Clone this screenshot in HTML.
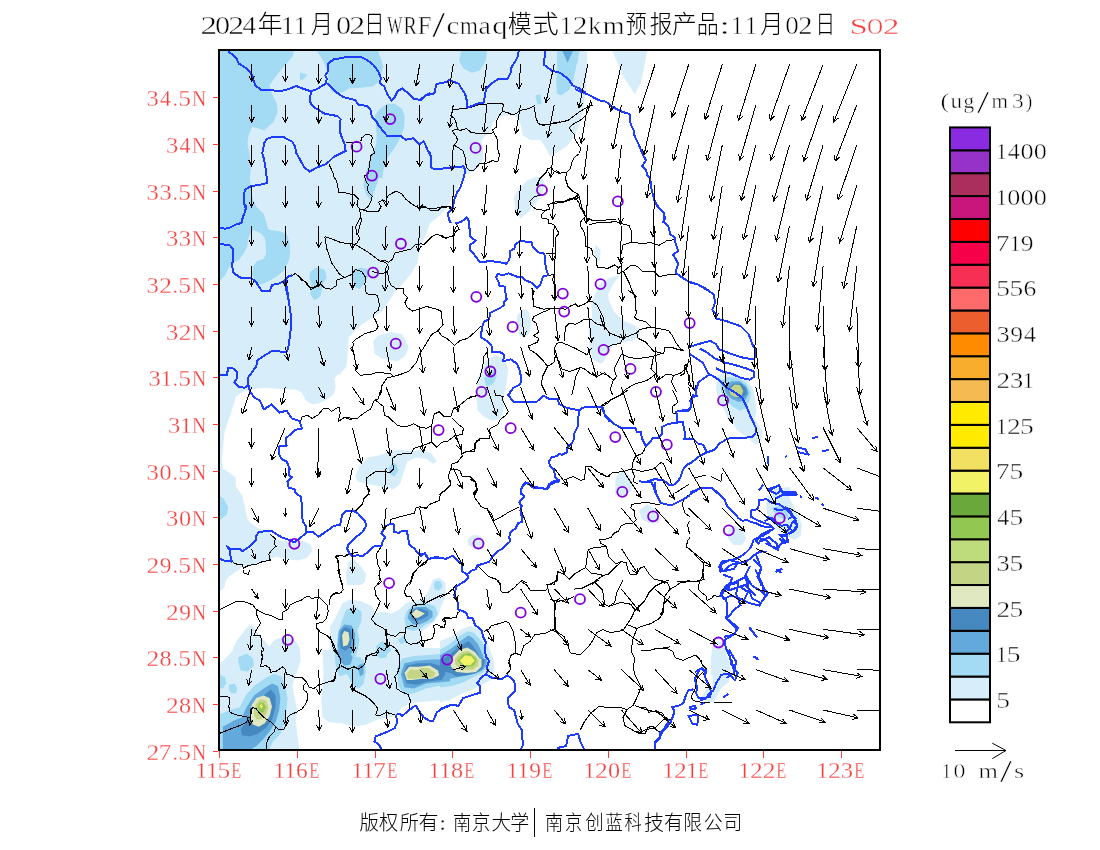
<!DOCTYPE html><html><head><meta charset="utf-8"><style>html,body{margin:0;padding:0;background:#fff;width:1100px;height:850px;overflow:hidden}svg{display:block}</style></head><body>
<svg width="1100" height="850" viewBox="0 0 1100 850">
<rect width="1100" height="850" fill="#fff"/>
<defs><clipPath id="mc"><rect x="219" y="50" width="661" height="700"/></clipPath></defs>
<g clip-path="url(#mc)">
<path d="M219.0,50.0 587.4,50.0 586.3,89.2 583.2,109.8 579.1,126.3 575.0,134.5 568.3,144.8 560.0,150.8 555.6,153.0 550.2,156.3 544.7,146.5 540.4,139.9 530.5,139.9 522.9,135.5 520.7,124.6 514.2,114.8 505.5,115.4 496.7,118.1 492.4,123.5 490.2,131.2 484.7,136.6 481.5,141.0 483.1,148.6 483.6,159.5 479.3,166.1 472.7,171.5 465.1,174.8 459.6,183.5 455.0,192.0 451.5,199.0 448.0,206.0 444.0,211.0 438.0,217.0 430.0,223.0 427.7,230.4 419.5,248.9 417.4,263.3 411.2,273.6 401.0,286.0 396.0,290.0 389.6,300.2 382.0,311.6 371.8,318.0 360.4,325.6 348.9,337.1 347.6,353.6 346.4,366.4 340.2,374.2 337.0,375.1 334.5,378.9 335.7,386.5 333.8,394.2 327.5,399.3 319.8,403.1 312.2,404.4 305.8,400.5 302.0,392.9 296.9,389.7 281.6,389.1 266.4,387.8 256.2,388.5 243.5,391.6 235.8,396.7 233.3,405.6 230.7,414.5 226.9,424.7 224.4,433.6 223.1,446.4 221.8,459.1 223.1,469.3 225.6,470.0 235.8,477.6 235.8,486.5 242.2,495.5 244.7,505.6 247.3,518.4 251.1,523.5 258.7,528.5 268.9,531.1 275.3,538.7 284.2,541.3 294.4,540.0 304.5,541.3 310.9,545.1 312.2,551.5 307.1,557.8 296.9,560.4 284.2,559.1 276.5,556.5 266.4,560.4 253.6,564.2 242.2,566.7 238.7,570.0 228.9,576.5 225.6,580.9 224.5,587.5 221.3,590.2 219.0,590.7Z" fill="#d7eefa"/>
<path d="M516.4,192.0 519.6,187.9 527.3,180.3 536.0,177.0 541.5,177.0 544.7,183.5 543.0,192.0 540.5,196.0 538.0,200.1 529.1,211.5 520.2,218.5 515.1,209.0 513.8,197.0ZM647.1,50.1 647.1,52.1 640.9,83.0 634.7,94.3 622.4,74.8 612.1,50.1ZM595.5,244.6 600.5,249.7 599.9,261.2 595.5,259.9 594.2,251.0ZM717.1,375.8 725.8,372.5 736.7,373.6 747.6,380.2 753.1,388.9 755.3,400.9 756.4,410.7 754.2,420.0 728.0,420.0 724.7,410.7 719.3,400.9 716.0,390.0ZM373.1,340.9 378.2,335.8 390.9,332.0 402.4,334.5 408.7,347.3 404.9,356.2 397.3,361.3 382.0,358.7 374.4,353.6ZM517.1,315.5 523.5,309.1 528.5,311.6 531.1,321.8 529.8,332.0 524.7,337.7 519.6,335.8 517.1,325.6ZM477.6,379.1 485.3,361.3 495.5,354.9 504.4,358.7 508.2,368.9 506.9,379.1 505.6,390.5 503.1,396.4 504.4,402.7 503.1,412.9 499.3,419.3 491.6,420.5 484.0,416.7 477.6,410.4 476.4,395.0ZM592.9,300.0 599.3,284.1 609.5,277.7 619.6,275.2 613.3,284.1 608.2,294.3 608.9,300.2 614.0,311.6 622.9,320.5 633.1,324.4 640.7,330.7 639.5,335.8 631.8,340.9 622.9,342.2 612.7,346.0 607.6,353.6 603.8,361.3 601.1,363.8 592.2,358.7 589.6,347.3 588.4,328.2 592.2,315.5 590.9,301.5ZM355.3,476.5 359.1,466.4 368.0,457.5 380.7,454.9 390.9,451.1 398.5,449.8 411.3,451.1 421.5,449.8 431.6,453.6 436.7,461.3 432.9,463.8 426.5,458.7 416.4,457.5 407.5,461.3 403.6,472.7 399.8,484.2 393.5,489.3 382.0,486.7 368.0,484.2 357.8,481.6ZM615.3,479.1 619.1,472.7 625.5,471.5 631.8,479.1 631.8,490.5 625.5,495.0 615.3,495.0ZM728.0,400.0 745.0,420.0 740.0,429.5 734.9,425.6 729.8,415.5 724.7,406.5 718.4,397.6 717.1,390.0ZM734.4,410.0 747.5,410.0 756.2,421.8 762.7,431.8 761.6,438.4 756.2,444.9 746.4,437.3 736.5,429.6 732.2,422.0 730.0,418.7ZM773.6,488.5 790.0,487.0 792.0,495.0 785.0,500.0 773.6,500.0ZM766.4,496.5 779.1,492.7 789.3,497.8 796.9,511.8 802.0,524.5 800.7,536.0 794.4,539.8 786.7,536.0 779.1,530.9 771.5,522.0 766.4,511.8ZM728.2,528.4 735.8,525.8 743.5,530.9 746.0,538.5 742.2,544.9 733.3,544.9 728.2,538.5ZM712.2,646.4 718.5,641.3 723.6,643.8 726.2,652.7 728.7,661.6 731.3,675.0 710.9,675.0 710.9,659.1ZM711.3,660.0 729.1,660.0 729.1,681.6 721.5,688.0 713.8,702.0 708.7,702.0 701.1,698.2 706.2,689.3 712.5,685.5 712.5,670.2ZM639.1,510.5 646.7,504.2 655.6,509.3 660.7,518.2 658.2,523.3 649.3,523.3 641.6,519.5ZM467.1,539.8 473.5,534.7 481.1,536.0 484.9,542.4 482.4,548.7 474.7,548.7 468.4,544.9ZM348.4,561.5 353.5,558.9 361.1,566.5 366.2,574.2 364.9,581.8 361.1,585.0 347.1,585.0 345.8,575.5ZM228.0,660.0 236.5,640.9 244.2,631.1 249.6,624.5 254.0,626.7 257.3,633.3 263.8,639.8 269.3,646.4 274.7,639.8 281.3,637.6 288.9,636.5 296.5,642.0 299.8,648.5 300.9,662.0 228.0,662.0ZM220.4,663.2 233.6,650.0 263.6,650.0 262.4,656.0 268.4,660.8 272.0,657.2 272.0,650.0 299.6,650.0 299.6,664.4 294.8,677.6 292.4,686.0 294.8,698.0 297.2,710.0 296.0,722.0 297.2,734.0 299.6,751.0 219.0,751.0 219.0,663.2ZM338.0,650.0 338.0,723.2 328.4,722.0 322.4,717.2 321.2,698.0 323.6,674.0 322.4,650.0ZM330.0,626.7 336.5,615.8 342.0,603.8 349.6,599.5 361.6,601.6 371.5,606.0 375.8,613.6 382.4,611.5 391.1,613.6 399.8,609.3 406.4,602.7 412.9,601.6 422.7,598.4 428.2,591.8 432.5,579.8 439.1,577.6 445.6,583.1 445.6,597.3 441.3,606.0 439.1,613.6 434.7,621.3 428.2,626.7 422.7,631.1 420.5,637.6 421.6,646.4 428.2,650.7 439.1,648.5 450.0,644.2 450.0,662.0 330.0,662.0ZM330.0,648.0 450.0,648.0 450.0,700.4 438.0,700.4 426.0,701.6 414.0,702.8 402.0,707.6 397.2,713.6 390.0,717.2 378.0,719.6 366.0,724.4 354.0,726.8 342.0,723.2 330.0,722.0ZM440.0,641.1 450.9,636.7 461.8,629.1 470.5,625.8 479.3,629.1 485.8,638.9 490.2,649.8 493.5,659.6 493.5,661.0 440.0,661.0ZM440.0,659.0 493.5,659.0 494.5,670.9 491.3,679.6 483.6,684.0 472.7,689.5 461.8,693.8 450.9,699.3 440.0,702.5Z" fill="#d7eefa"/>
<path d="M219.0,50.0 294.0,50.0 293.0,56.0 280.0,71.0 269.5,85.0 271.6,93.0 276.7,103.6 277.7,112.0 273.6,122.0 264.0,130.6 258.0,128.2 252.1,127.1 248.6,135.3 247.4,143.5 249.8,155.3 250.9,167.1 249.8,178.8 250.9,185.9 252.1,195.3 253.3,200.0 256.8,207.1 263.9,214.1 266.2,222.4 268.6,229.4 281.5,231.8 287.4,235.3 289.8,244.7 290.4,252.9 288.6,261.2 283.9,270.6 276.8,276.5 268.6,281.2 260.4,284.7 255.6,281.2 252.1,275.3 253.3,265.9 256.8,261.2 263.9,258.8 266.2,252.9 265.1,238.8 261.5,234.1 255.6,230.6 252.1,230.6 248.6,237.6 247.4,245.9 243.9,252.9 239.2,260.0 233.3,262.4 229.8,265.9 225.1,275.3 220.4,280.0 219.0,281.2ZM378.0,51.1 381.1,58.7 383.4,66.4 381.1,74.0 378.8,81.6 373.4,86.2 361.2,87.8 348.9,88.5 342.8,92.4 332.1,92.4 329.1,84.7 327.5,70.9 322.9,60.2 316.8,51.1ZM374.9,115.3 379.5,109.2 387.2,103.8 394.8,103.8 402.5,109.2 404.8,116.8 404.0,127.5 400.9,136.7 397.9,142.8 391.8,152.0 387.2,158.1 383.4,170.4 382.6,178.0 367.3,178.0 368.8,170.4 373.4,158.1 376.5,142.8 376.5,133.7 375.7,124.5ZM300.0,72.5 307.6,74.8 302.3,80.1 300.0,79.4ZM486.9,50.1 485.9,60.4 479.7,70.7 471.5,72.7 463.3,68.6 459.1,60.4 461.2,50.1ZM535.3,95.4 540.5,94.3 541.5,103.6 537.4,104.6ZM557.0,50.0 579.9,50.0 576.6,64.4 573.4,80.7 569.3,89.7 561.1,95.5 557.0,93.8 556.2,80.7 557.0,64.4ZM536.5,95.5 540.6,95.5 540.6,101.2 537.4,105.3ZM575.0,48.0 579.1,48.0 578.1,60.4 575.0,68.6ZM310.3,271.6 316.5,267.4 324.7,269.5 326.8,277.7 322.7,283.9 320.6,296.3 314.4,300.4 310.3,294.2 311.3,283.9 309.3,277.7ZM353.6,269.5 361.8,267.4 368.0,269.5 369.0,275.7 363.9,283.9 359.7,289.1 354.6,287.0 352.5,277.7ZM218.0,495.5 223.1,498.0 228.2,506.9 226.9,514.5 221.8,518.4 218.0,520.9ZM720.4,381.3 728.0,376.9 737.8,378.0 746.5,383.5 750.9,392.2 749.8,399.8 745.5,408.5 740.0,410.7 732.4,406.4 725.8,399.8 721.5,392.2ZM484.0,379.1 487.8,371.5 495.5,368.9 496.7,376.5 492.9,384.2 486.5,386.7ZM388.4,468.9 392.2,462.5 396.0,463.8 398.5,470.2 394.7,476.5 389.6,474.0ZM771.5,508.0 779.1,505.5 786.7,509.3 789.3,516.9 784.2,519.5 776.5,515.6ZM239.8,660.0 245.3,654.0 250.7,656.2 254.0,660.0ZM238.4,657.2 246.8,653.6 252.8,658.4 254.0,665.6 248.0,671.6 240.8,670.4 238.4,663.2ZM219.0,674.0 225.2,677.6 226.4,683.6 222.8,688.4 219.0,688.4ZM228.8,684.8 234.8,683.6 237.2,688.4 236.0,693.2 231.2,693.2 228.8,689.6ZM219.0,714.8 230.0,710.0 239.6,707.6 245.6,695.6 254.0,686.0 266.0,677.6 274.4,674.0 281.6,676.4 285.2,686.0 287.6,698.0 286.4,710.0 285.2,722.0 280.4,734.0 273.2,741.2 268.4,751.0 219.0,751.0ZM336.5,657.3 337.6,635.5 342.0,620.2 346.4,609.3 355.1,607.1 361.6,611.5 361.6,620.2 357.3,631.1 359.5,639.8 358.4,648.5 355.1,657.3 351.8,660.0 338.7,660.0ZM404.2,619.1 406.4,611.5 412.9,604.9 424.9,602.7 434.7,606.0 438.0,613.6 433.6,621.3 426.0,624.5 419.5,628.9 412.9,631.1 406.4,628.9ZM433.6,584.2 435.8,580.9 440.2,580.9 442.4,586.4 439.1,590.7 434.7,589.6ZM375.8,646.4 382.4,640.9 388.9,644.2 391.1,650.7 384.5,656.2 378.0,654.0ZM397.6,639.8 404.2,635.5 406.4,642.0 400.9,644.2ZM422.7,660.0 433.6,655.1 444.5,652.9 450.0,650.7 450.0,662.0 422.7,662.0ZM334.8,650.0 342.0,650.0 350.4,656.0 360.0,657.2 364.8,662.0 366.0,671.6 363.6,683.6 358.8,688.4 354.0,686.0 350.4,680.0 346.8,674.0 339.6,676.4 336.0,668.0 334.8,657.2ZM375.6,650.0 387.6,650.0 386.4,657.2 380.4,658.4 375.6,654.8ZM397.2,668.0 402.0,658.4 414.0,656.0 432.0,654.8 444.0,653.6 450.0,652.4 450.0,686.0 438.0,686.0 426.0,688.4 414.0,693.2 404.4,694.4 398.4,686.0ZM440.0,649.8 448.7,644.4 458.5,636.7 467.3,631.3 473.8,632.4 481.5,641.1 485.8,650.9 488.0,658.5 489.1,661.0 440.0,661.0ZM440.0,659.0 489.1,659.0 488.0,666.5 483.6,672.0 472.7,677.5 461.8,682.9 450.9,686.2 440.0,687.3ZM377.3,130.0 402.7,130.0 400.2,137.6 391.3,149.1 384.9,163.1 381.1,172.0 377.3,183.5 373.5,193.6 370.9,201.3 365.8,193.6 363.3,184.7 367.1,168.2 370.9,155.5 376.0,145.3Z" fill="#a3dbf4"/>
<path d="M561.9,50.0 573.4,50.0 567.6,62.7ZM724.7,386.7 731.3,381.3 740.0,381.3 746.5,386.7 748.7,393.3 745.5,399.8 738.9,402.0 731.3,398.7 725.8,393.3ZM222.8,726.8 233.6,720.8 242.0,717.2 246.8,706.4 254.0,695.6 263.6,688.4 272.0,683.6 278.0,686.0 280.4,698.0 279.2,710.0 275.6,722.0 269.6,731.6 263.6,738.8 256.4,746.0 248.0,751.0 222.8,751.0ZM337.6,646.4 338.7,631.1 344.2,624.5 351.8,625.6 355.1,633.3 355.1,644.2 351.8,652.9 344.2,657.3 339.8,654.0ZM407.5,618.0 409.6,610.4 416.2,607.1 426.0,607.1 432.5,611.5 432.5,616.9 427.1,621.3 419.5,624.5 412.9,624.5ZM337.2,650.0 348.0,650.0 352.8,657.2 350.4,664.4 344.4,665.6 339.6,660.8ZM357.6,665.6 363.6,663.2 363.6,674.0 360.0,676.4ZM400.8,674.0 404.4,663.2 416.4,660.8 432.0,659.6 445.2,659.6 450.0,662.0 450.0,681.2 438.0,682.4 426.0,683.6 414.0,688.4 404.4,687.2ZM440.0,655.3 450.9,648.7 460.7,641.1 468.4,635.6 472.7,637.8 478.2,644.4 482.5,654.2 484.7,661.0 440.0,661.0ZM440.0,659.0 486.9,659.0 485.8,666.5 481.5,670.9 472.7,674.2 461.8,676.4 450.9,678.5 440.0,681.8Z" fill="#63a9dc"/>
<path d="M728.0,388.9 733.5,383.5 741.1,383.5 746.5,388.9 746.5,394.4 741.1,398.7 734.5,397.6 729.1,393.3ZM240.8,729.2 249.2,717.2 254.0,705.2 263.6,695.6 270.8,689.6 275.6,695.6 275.6,707.6 272.0,719.6 266.0,728.0 257.6,734.0 249.2,736.4 242.0,735.2ZM339.8,640.9 340.9,631.1 345.3,626.7 350.7,628.9 351.8,637.6 350.7,646.4 345.3,650.7 340.9,648.5ZM410.7,613.6 414.0,609.3 420.5,608.2 428.2,611.5 428.2,615.8 422.7,619.1 416.2,621.3 411.8,619.1ZM403.2,674.0 406.8,665.6 417.6,663.2 432.0,663.2 442.8,666.8 445.2,674.0 441.6,680.0 429.6,681.2 416.4,684.8 406.8,683.6ZM440.0,660.7 449.8,654.2 459.6,646.5 468.4,641.1 472.7,645.5 477.1,652.0 480.4,660.7 481.5,661.0 440.0,661.0ZM440.0,659.0 484.7,659.0 484.7,662.2 482.5,668.7 476.0,673.1 467.3,675.3 456.4,676.4 450.9,673.1 445.5,672.0 440.0,675.3Z" fill="#4689c0"/>
<path d="M250.4,717.2 251.6,705.2 256.4,698.0 263.6,695.6 269.6,698.0 272.0,706.4 269.6,716.0 264.8,723.2 258.8,726.8 252.8,724.4ZM342.0,635.5 344.2,631.1 348.5,632.2 349.6,639.8 347.5,645.3 343.1,646.4ZM411.8,613.6 416.2,609.3 420.5,611.5 424.9,613.6 421.6,615.8 417.3,618.0 412.9,616.9ZM404.4,672.8 409.2,666.8 418.8,666.8 429.6,665.6 438.0,670.4 439.2,675.2 432.0,678.8 421.2,678.8 412.8,680.0 406.8,680.0ZM453.1,656.4 459.6,649.8 467.3,647.6 474.9,652.0 480.4,659.6 481.5,661.0 450.9,661.0ZM450.9,659.0 481.5,659.0 481.5,666.5 476.0,672.0 467.3,673.1 456.4,672.0 450.9,666.5Z" fill="#e0e8c2"/>
<path d="M729.1,390.0 734.5,384.5 740.0,385.1 743.3,391.1 741.1,396.5 735.6,397.6 730.2,394.4ZM254.0,714.8 255.2,705.2 260.0,699.2 266.0,700.4 268.4,707.6 266.0,714.8 261.2,719.6 256.4,719.6ZM406.8,674.0 410.4,669.2 416.4,670.4 421.2,668.0 428.4,668.0 435.6,672.8 433.2,677.6 423.6,677.6 414.0,678.8 408.0,678.8ZM455.3,658.5 461.8,652.0 468.4,650.9 476.0,656.4 479.0,661.0 454.2,661.0ZM455.3,659.0 478.2,659.0 478.2,665.5 472.7,669.8 461.8,669.8 455.3,664.4Z" fill="#c3d484"/>
<path d="M257.6,707.6 260.0,702.8 263.6,702.8 266.0,707.6 263.6,712.4 260.0,712.4ZM457.5,660.7 462.9,654.2 469.5,653.1 476.0,658.5 476.5,661.0 458.5,661.0ZM458.5,659.0 476.0,659.0 476.0,662.2 472.7,666.5 464.0,666.5 458.5,662.2Z" fill="#92c852"/>
<path d="M259.4,706.4 261.2,703.4 263.0,706.4 261.2,708.8ZM459.6,660.7 465.1,655.3 471.6,656.4 474.9,660.7 470.5,665.1 464.0,665.1ZM473.8,659.0 471.6,664.4 465.1,664.4 460.7,659.0Z" fill="#f2f266"/>
<path d="M292.1,275.3 295.6,273.5 302.7,280.0 306.2,282.4 310.9,289.4 318.0,285.9M453.0,109.8 461.2,108.8 469.4,107.7 479.7,104.6 492.1,103.6 502.4,103.2M420.0,206.6 430.3,208.7 440.6,207.6 450.9,206.6M575.0,192.2 579.1,196.3 581.2,204.5 583.2,212.8 587.4,219.0 595.6,221.0 605.9,220.0 616.2,219.0M355.6,244.8 359.7,238.6 357.7,234.5 359.7,226.2 361.8,220.1 360.8,218.0M324.7,236.5 330.9,238.6 341.2,242.7 351.5,243.7 355.6,244.8 368.0,252.0 380.3,261.3 384.4,260.2 388.6,262.3 392.7,259.2 394.7,253.0 403.0,251.0 411.2,248.9 415.3,244.8 421.5,243.7 423.6,244.8 427.7,240.7 431.8,236.5 435.9,234.5 442.1,235.5 444.2,237.6 452.4,236.5 454.5,230.4 456.5,226.2M324.7,236.5 326.8,248.9 331.9,263.3 339.1,273.6 344.3,277.7 337.1,279.8 336.0,286.0 330.9,289.1 324.7,288.0 320.6,283.9 312.4,288.0 308.2,286.0 304.1,280.8 300.0,279.8M344.3,277.7 351.5,274.6 355.6,269.5 361.8,271.6 365.9,277.7 364.9,283.9 365.5,290.0M403.6,290.0 403.0,288.0 396.8,289.1 390.6,284.9 388.6,279.8 387.5,271.6 388.6,267.4 386.5,263.3 382.4,261.3 380.3,261.3M372.1,271.6 382.4,273.6 387.5,271.6M300.7,420.9 302.0,417.1 307.1,415.2 312.2,418.4 318.5,414.5 323.6,408.2 328.7,408.8 331.3,411.4 338.9,406.9 340.2,413.3 338.3,421.5 344.0,417.7 358.0,418.4M270.2,534.3 275.3,538.7 274.0,543.8 275.9,546.4 271.5,550.2 268.9,554.0 270.2,560.4 262.5,561.6 256.2,564.2 248.5,565.5 243.5,568.0 242.2,564.2 237.1,564.2 233.3,562.9M335.1,557.8 340.2,555.3 345.3,556.5 350.4,554.0 358.0,552.0M337.6,559.1 338.3,565.5 340.2,575.0M453.1,109.9 450.9,115.9 454.2,118.1 456.4,123.5 457.5,129.0 459.6,130.6 466.2,128.5 471.6,132.8 481.5,133.4 484.7,133.9 491.3,133.4 493.5,132.3 496.7,137.7 497.8,143.2 497.3,147.5 499.5,155.2 497.8,161.7 492.4,160.6 488.0,162.8 483.6,163.9 479.3,163.9 473.8,170.5 469.5,170.5 466.2,167.2 465.6,158.5 462.9,150.8 456.4,146.5 454.2,145.4 456.4,142.1 457.5,139.9 456.4,136.6 453.1,132.3 452.5,130.6 457.5,129.0M493.5,132.3 492.4,130.1 496.7,126.8 496.7,120.3 498.9,115.9 502.2,111.5 503.3,105.0 502.4,103.2M502.2,111.5 507.6,112.6 512.0,114.8 516.4,113.7 519.6,110.5 525.1,109.4 529.5,108.3 533.8,106.1 534.9,105.0M533.8,106.1 534.9,111.5 536.0,118.1 538.2,123.5 542.5,125.2 549.1,124.6 554.5,122.5 560.0,121.9M540.0,124.8 550.2,124.2 557.8,122.9 568.0,120.4 578.2,112.7 588.4,106.4 592.2,105.1 590.5,101.0 588.4,110.2M588.4,110.2 585.8,115.3 582.0,119.1 573.1,124.2 569.3,128.0 571.8,131.8 574.4,134.4 574.4,138.2 578.2,144.5 580.7,148.4 579.5,153.5 574.4,157.3 571.8,162.4 570.5,168.7 566.7,172.5 559.1,173.2 554.0,171.3 551.5,167.5 547.6,168.7 546.4,172.5 540.0,178.9 536.0,185.7M566.7,172.5 565.5,178.9 568.0,186.5 573.1,191.6 578.2,194.2 576.9,199.3 570.5,198.6 562.9,201.8 555.3,201.8 547.6,205.0M560.0,172.6 555.6,170.5M546.9,170.5 544.7,173.7 541.5,177.0 539.3,179.2 538.2,184.6 536.0,185.7M456.5,224.3 459.1,229.4 455.3,231.9 454.0,235.7 448.9,237.0 446.4,238.3 442.5,237.0 440.0,235.1M580.0,197.5 573.6,198.8 562.2,202.6 553.3,203.3 548.2,204.5 549.5,209.0 545.6,210.3 536.7,209.6 531.0,205.2 529.7,201.4 534.2,196.9 540.5,195.0M545.6,210.3 541.8,214.1 541.8,217.9 548.2,219.2 548.2,223.0 553.3,224.3 555.2,226.8 559.0,233.2 555.8,237.0 555.2,239.5 555.2,253.5 545.6,253.5M555.2,253.5 554.5,273.9 548.8,275.8M554.5,273.9 552.6,279.0 553.3,282.8 555.2,284.1 555.2,300.0M531.6,287.9 534.2,291.7 532.3,296.8 532.9,300.0M570.0,198.8 575.1,197.5 577.6,195.0M575.1,197.5 578.9,202.6 580.2,207.7 584.0,211.5 585.3,216.6 584.0,217.9 580.8,221.7 580.2,225.5 584.0,231.9 585.3,237.0 585.3,245.9 591.6,248.5 592.9,254.8 596.7,258.6 596.1,263.7 598.0,267.5 608.2,268.2 614.5,265.0 618.4,267.5 617.1,272.6 618.4,273.9 623.5,271.4 631.1,265.0 637.5,266.3 642.5,271.4 654.0,271.4 659.1,276.5 669.3,274.5 675.6,274.5M589.1,224.9 598.0,222.4 608.2,223.0 614.5,221.1 620.9,223.6 629.2,225.5 631.1,230.6 631.7,242.1 622.2,245.3M631.7,242.1 641.3,243.4 651.5,242.7 659.1,245.3 666.7,240.8 674.4,239.6M622.2,245.3 622.2,249.7 620.3,256.1 622.2,262.5 620.9,266.3 618.4,267.5M623.5,271.4 626.0,276.5 629.8,284.1 632.4,291.7 636.2,296.8 634.9,300.0M680.0,349.6 684.4,350.2M689.8,361.6 684.4,366.0 684.4,373.6 680.0,375.8M687.6,362.7 686.5,371.5 689.8,376.9 688.7,384.5 694.2,388.9M365.5,290.0 366.7,293.8 376.9,295.1 378.2,298.9 379.5,305.3 378.2,310.4 374.4,312.9 373.1,316.7 375.6,320.5 378.2,326.9 375.6,330.7 365.5,333.3 355.3,339.6 352.7,342.2 354.0,344.7 350.8,348.5 354.0,353.6 355.3,361.3 356.5,366.4 355.3,370.2 360.4,375.3 371.8,374.0 375.6,372.7 382.0,372.7 390.9,374.0 393.5,376.5 399.8,374.6 408.7,371.5 416.4,362.5 418.9,354.9 424.0,347.3 431.6,334.5 438.0,330.7 443.1,324.4 441.8,318.0 441.8,311.6 436.7,309.1 426.5,306.5 418.9,309.1 412.5,311.0 407.5,307.8 404.9,302.7 407.5,297.6 403.6,293.8 403.6,290.0M438.0,330.7 441.8,335.8 446.9,338.4 454.5,345.4 459.6,340.9 467.3,338.4 474.9,332.0 480.0,326.9M393.5,376.5 387.1,377.8 382.0,385.5 380.7,395.0M532.4,290.0 533.6,306.5 543.8,309.1 554.0,308.5 557.8,308.5 565.5,309.1 571.8,305.3 575.6,304.0 578.2,306.5 584.5,304.0 588.4,301.5 592.2,301.5 597.3,305.3 603.6,318.0 604.9,329.5M550.2,309.1 541.3,312.9 533.6,316.7 532.4,320.5 536.2,323.1 538.7,332.0 533.6,335.8 538.7,338.4 537.5,342.2 528.5,346.0 529.8,349.8 536.2,353.6 542.5,360.0 547.6,366.4 554.0,362.5 555.3,356.2 554.0,349.8 556.5,343.5 561.6,342.2 564.2,343.5M564.2,343.5 575.6,348.5 587.1,354.9 589.6,349.8 592.2,348.5M564.2,340.9 565.5,326.9 569.3,323.1 575.6,324.4 584.5,319.3 590.9,319.3 597.3,324.4 603.6,325.6 608.7,332.0 610.0,335.8M547.6,366.4 542.5,376.5 541.3,384.2 545.1,391.8 546.4,395.0M554.0,353.6 559.1,361.3 561.6,368.9 569.3,371.5 580.7,367.6 584.5,368.9 590.9,374.0 597.3,376.5 604.9,372.7 610.0,377.8M579.5,368.9 575.6,376.5 574.4,384.2 571.8,395.0M470.0,337.1 481.5,325.6M488.0,351.1 484.0,356.2 482.7,366.4 480.2,376.5 476.4,384.2M628.0,290.0 634.4,295.1 635.6,300.2 635.0,307.8 636.9,312.9 634.4,316.7 636.9,319.3 645.8,321.8 650.9,326.9 645.8,328.2 639.5,329.5 636.9,333.3 638.2,338.4 645.8,342.2 653.5,351.1 663.6,353.6 664.9,347.3 671.3,347.3 678.9,349.8 684.0,350.5M650.9,326.9 663.6,329.5 668.7,330.7 672.5,335.8 676.4,343.5 681.5,349.8M600.0,315.5 603.8,326.9 610.2,333.3 622.9,338.4 635.6,333.3 638.2,330.7M622.9,338.4 620.4,343.5 612.7,344.7 607.6,347.3M621.6,353.6 629.3,357.5 638.2,358.7 653.5,356.2 661.1,353.6M621.6,353.6 617.8,361.3 614.0,368.9 616.5,376.5 612.7,381.6 610.2,389.3 612.7,395.0M600.0,372.7 607.6,375.3 614.0,380.4M653.5,356.2 652.2,363.8 650.9,368.9 656.0,374.0 659.8,379.1 666.2,374.0 673.8,375.3 681.5,372.7 685.3,368.9 687.8,363.8 689.1,358.7M656.0,374.0 647.1,380.4 634.4,384.2 625.5,389.3 620.4,395.0M673.8,375.3 671.3,381.6 676.4,391.8M685.3,368.9 687.8,372.7 689.1,381.6 694.2,390.5M340.0,420.5 343.8,417.4 350.2,419.3 357.8,418.0 364.2,412.9 370.5,409.1 374.4,400.2 378.2,398.9 380.7,390.0M375.6,400.2 383.3,406.5 384.5,415.5 388.4,416.7 393.5,421.8 397.3,425.6 406.2,426.9 413.8,423.7 418.9,426.9 426.5,428.2 431.6,425.6 434.2,414.2 439.3,411.6 444.4,416.7 450.7,416.7 453.3,409.1 459.6,405.3 467.3,398.9 473.6,396.4 480.0,395.1M431.6,425.6 431.6,442.2 436.7,447.3 441.8,442.2 448.2,440.9 454.5,435.8 462.2,434.5 463.5,428.2 458.4,424.4 452.0,418.0M431.6,442.2 421.5,446.0 413.8,448.5 411.3,453.6 403.6,453.6 397.3,454.9 392.2,458.7 393.5,468.9 389.6,472.7 385.8,471.5 375.6,471.5 366.7,477.8 366.7,485.5 369.3,495.0M454.5,435.8 460.9,447.3 462.2,456.2 457.1,462.5 452.0,463.8 450.7,468.9 448.2,476.5 450.7,484.2 444.4,490.5 439.3,495.0M462.2,453.6 467.3,451.1 474.9,451.1 474.9,443.5 480.0,439.6M450.7,468.9 459.6,470.2 462.2,476.5 469.8,476.5 474.9,481.6 477.5,489.3 474.9,495.0M470.0,397.0 477.6,395.7M494.2,390.0 495.5,395.1 503.1,396.4 502.5,400.2 505.6,406.5 508.2,411.6 505.6,415.5 500.5,419.3 498.0,424.4 492.9,426.9 489.1,429.5 490.4,433.3 489.1,438.4 485.3,438.4 480.2,438.4 476.4,440.9 475.1,448.5 472.5,449.8 470.0,451.1M585.8,466.4 590.9,466.4 597.3,471.5 602.4,474.0 606.2,476.5 610.0,476.5M585.8,466.4 584.5,479.1 580.7,480.4 573.1,476.5 566.7,479.1 562.9,480.4M470.0,479.1 475.1,481.6 476.4,489.3 473.8,495.0M602.4,406.5 610.0,401.5M600.0,406.5 610.2,400.2 622.9,393.8 628.0,390.0M645.8,446.0 644.5,449.8 642.0,453.6 635.6,456.2 633.1,461.3 631.8,468.9 622.9,471.5 612.7,472.7 607.6,476.5 600.0,474.0M631.8,468.9 642.0,471.5 653.5,468.9 661.1,462.5 663.6,463.8 666.2,470.2 670.0,479.1 671.3,484.2M631.8,468.9 634.4,476.5 633.1,481.6 638.2,484.2M672.5,390.0 676.4,397.6 677.6,402.7 672.5,406.5 672.5,412.9 676.4,414.2M694.2,477.8 705.6,475.3M722.2,472.7 720.9,481.6 710.7,476.5M675.1,493.1 689.1,484.2M693.8,553.8 701.5,561.5 704.0,562.7 702.7,571.6 704.0,579.3 697.6,581.8 690.0,581.8M660.0,580.2 667.6,582.7 670.2,589.1 675.3,586.5 680.4,582.7 690.5,581.5 699.5,580.8 702.0,577.6 703.3,570.0M699.5,580.8 698.2,589.1 702.0,592.9 705.8,595.5 707.1,600.5 712.2,598.0 713.5,595.5 719.8,596.7M670.2,589.1 665.1,595.5 663.8,603.1 662.5,612.0 660.0,614.5M660.0,648.9 665.1,647.6 672.7,651.5 675.3,657.8 682.9,660.4 691.8,656.5 695.6,655.3 699.5,659.1 702.0,664.2 705.8,668.0 703.3,675.0M701.1,660.0 702.4,665.1 706.2,668.9 702.4,672.7 697.3,677.8 696.0,684.2 694.7,690.5 690.9,696.9 693.5,700.7 699.8,702.0 710.0,702.0M713.8,702.0 731.6,702.0M640.0,707.1 645.1,707.1 648.9,712.2 656.5,710.9 662.9,713.5 665.5,718.5 670.5,719.8M640.0,733.8 645.1,733.8 647.6,727.5 652.7,726.2 656.5,730.0 660.4,732.5M631.5,504.2 639.1,503.5 644.2,502.3 649.3,502.9 659.5,504.8M631.5,504.2 630.8,508.0 634.0,510.5 634.0,515.6 636.5,519.5 632.7,523.3 626.4,523.3 621.3,525.8 618.7,530.9 613.6,533.5 611.1,537.3 603.5,539.8 599.6,539.8 600.9,543.6 606.0,546.2 607.3,550.0 608.5,556.4 613.6,561.5 616.2,564.0 621.3,561.5 626.4,562.7 627.6,569.1 630.2,574.2 636.5,574.2 640.4,567.8 644.2,566.5 649.3,574.2 654.4,579.3 660.7,580.5 664.5,583.1 667.1,581.8M606.0,546.2 598.4,547.5 592.0,548.1 588.2,550.0 586.9,558.9 585.6,567.8 580.5,570.4 574.2,574.2 569.1,579.3 564.0,574.2 557.6,571.6 556.4,579.3 553.8,585.0M585.6,567.8 590.7,572.9 598.4,574.2 603.5,575.5 608.5,574.2 616.2,566.5 621.3,561.5M603.5,575.5 595.8,580.5 592.0,585.0M690.0,494.0 683.6,499.1 682.4,505.5 684.9,513.1 690.0,516.9M690.0,520.7 687.5,524.5 688.7,530.9 690.0,533.5M690.0,537.3 687.5,541.1 686.2,547.5 690.0,548.7M677.3,581.8 683.6,581.8 690.0,580.5M420.0,508.0 426.4,507.4 430.2,504.2 439.1,500.4 440.4,494.0 445.5,490.2 450.5,485.1 450.5,480.0M470.9,480.0 476.0,482.5 477.3,490.2 473.5,492.7 474.7,497.8 478.5,502.9 481.1,506.7 487.5,509.3 491.3,513.1 493.8,520.7 498.9,518.2 505.3,514.4 509.1,511.8 519.3,506.7M420.0,566.5 425.1,564.0 427.6,560.2M478.5,566.5 483.6,571.6 488.7,576.7 496.4,579.3 500.2,585.0M560.0,572.9 557.5,572.9 557.5,580.5 549.8,585.0M516.7,585.0 521.8,580.5 526.9,583.1M366.2,480.0 366.2,485.1 369.4,490.2 368.7,494.0 363.6,499.1 362.4,504.2 356.0,510.5 353.5,511.8M390.4,524.5 390.4,519.5 404.4,515.6 414.5,513.1 415.8,508.0 419.6,506.7 426.0,508.6 429.8,504.2 434.9,502.3 440.0,500.4M381.5,546.2 376.4,553.8 377.6,564.0 380.2,569.1 378.9,575.5 381.5,581.8 377.6,585.0M335.6,556.4 338.2,555.1 344.5,556.4 348.4,553.8M335.6,556.4 338.2,560.2 338.2,569.1 339.5,576.7 342.0,585.0M428.5,558.9 420.9,565.3 414.5,571.6 412.0,579.3 409.5,585.0M220.2,609.3 226.7,606.0 235.5,601.6 244.2,601.6 252.9,604.9 256.2,609.3 263.8,613.6 271.5,615.8 278.0,619.1 282.4,619.1 282.4,612.5 287.8,609.3 290.0,604.9 296.5,601.6 300.9,600.5 305.3,597.3 308.5,596.2 311.8,598.4 318.4,597.3 320.5,598.4 327.1,604.9 328.2,611.5 326.0,619.1 322.7,622.4 316.2,623.5 316.2,627.8 320.5,632.2 327.1,635.5 331.5,639.8 332.5,646.4 335.8,651.8 338.0,654.0M256.2,609.3 256.2,613.6 260.5,623.5 256.2,630.0 254.0,635.5 260.5,635.5 261.6,640.9 261.6,646.4 263.8,649.6 261.6,652.9 262.7,660.0M329.3,604.9 329.3,600.5 331.5,595.1 335.8,592.9 338.0,592.9M243.1,570.0 244.2,573.3 248.5,574.4 249.6,570.0M261.2,650.0 262.4,656.0 260.6,666.8 266.0,665.6 269.6,668.0 270.8,672.2 275.6,671.6 279.2,669.2 282.8,666.8 285.2,669.2 286.4,674.0 291.2,675.2 294.8,677.6 302.0,677.6 306.8,682.4 309.2,687.2 314.0,688.4 318.8,684.8 323.6,683.6 326.0,682.4 333.2,681.2 335.6,674.0 336.8,669.2 338.0,668.0M306.8,682.4 303.2,686.0 303.2,689.6 306.8,692.0 308.0,698.0 305.6,704.0 302.0,708.8 296.0,712.4 290.0,714.8 287.6,717.2 286.4,724.4 284.0,729.2 278.0,729.2 275.6,726.8 270.8,722.0 263.6,717.2 258.8,712.4 256.4,708.8 252.8,707.6 250.4,710.0 250.4,717.2 248.0,717.2 242.0,716.0 236.0,714.8 230.0,712.4 228.8,706.4 230.0,698.0 227.6,696.8 218.0,696.8M275.6,726.8 274.4,731.6 269.6,736.4 267.2,741.2 266.0,749.6M248.0,717.2 246.8,722.0 239.6,725.6 230.0,729.2 218.0,734.0M337.6,570.0 339.8,576.5 342.0,583.1 343.1,589.6 340.9,592.9 334.4,594.0 330.0,597.3M380.2,570.0 379.1,576.5 380.2,580.9 374.7,587.5 375.8,595.1 380.2,601.6 378.0,607.1 374.7,613.6 371.5,619.1 375.8,624.5 382.4,627.8 385.6,630.0 387.8,634.4 395.5,636.5 399.8,632.2 405.3,632.2 405.3,627.8 410.7,625.6 416.2,626.7 417.3,623.5 415.1,619.1 410.7,613.6 412.9,606.0 417.3,604.9 423.8,604.9 428.2,601.6 434.7,598.4 441.3,595.1 450.0,592.9M405.3,632.2 404.2,637.6 406.4,642.0 410.7,644.2 417.3,643.1 421.6,639.8 424.9,640.9 428.2,639.8 432.5,638.7 434.7,631.1 433.6,625.6 436.9,624.5 444.5,627.8 445.6,621.3 443.5,619.1 445.6,618.0 450.0,619.1M417.3,570.0 412.9,573.3 410.7,580.9 406.4,586.4 404.2,591.8 406.4,596.2 410.7,596.2 412.9,600.5 416.2,604.9M385.6,630.0 386.7,646.4 384.5,650.7 379.1,647.5 375.8,652.9 371.5,654.0 366.0,656.2 366.0,660.0M386.7,646.4 391.1,645.3 395.5,648.5 398.7,652.9 399.8,660.0M330.0,636.5 334.4,646.4 338.7,655.1 340.9,660.0M330.0,681.2 334.8,680.0 336.0,671.6 339.6,666.8 340.8,659.6 337.2,653.6 333.6,650.0M340.8,665.6 348.0,669.2 354.0,666.8 358.8,669.2 364.8,664.4 366.0,657.2 370.8,654.8 375.6,656.0 378.0,652.4 378.0,650.0M352.8,669.2 352.8,681.2 351.6,686.0 355.2,690.8 360.0,693.2 364.8,695.6 369.6,699.2 374.4,704.0 378.0,708.8 375.6,714.8 379.2,716.0 386.4,712.4 394.8,714.8M394.8,650.0 399.6,654.8 399.6,666.8 397.2,674.0 394.8,676.4 396.0,682.4 396.0,688.4 402.0,692.0 408.0,694.4 410.4,700.4 409.2,708.8M440.0,597.5 446.5,594.2 453.1,588.7 456.4,584.4M440.0,628.0 444.4,626.9 445.5,622.5 442.2,620.4 444.4,617.1 450.9,618.2 456.4,617.1 457.5,612.7 459.6,611.6M483.6,631.3 488.0,630.2 491.3,625.8 498.9,623.6 505.5,621.5 508.7,622.5 513.1,631.3 515.3,642.2 515.3,653.1 510.9,655.3 508.7,662.9 510.9,670.0M515.3,653.1 520.7,655.3 524.0,645.5 530.5,641.1 534.9,634.5 544.7,633.5 554.5,629.1 556.7,631.3 560.0,633.5M554.5,629.1 555.6,622.5 554.5,612.7 555.6,607.3 555.6,604.0 552.4,599.6 549.1,593.1 548.0,588.7 546.9,584.4 549.1,584.4 557.8,580.0M555.6,604.0 557.8,599.6 560.0,598.5M497.8,580.0 500.0,583.3 500.0,589.8 502.2,592.0 508.7,592.0 514.2,587.6 520.7,581.1 522.9,580.0M520.7,581.1 527.3,585.5 530.5,590.9 540.4,590.9 546.9,589.8M554.5,588.7 560.0,594.2M508.7,660.0 510.9,666.5 509.8,670.9 506.5,674.2M550.0,599.2 558.1,601.3 568.2,599.2 574.3,596.2M574.3,589.1 582.4,588.1 594.5,582.0 598.6,580.0M594.5,582.0 602.6,590.1 604.7,604.3 608.7,606.3 614.8,602.3 616.8,592.1 620.9,584.0 622.9,580.0M608.7,606.3 620.9,602.3 631.0,604.3 635.0,610.4 639.1,606.3 645.1,600.2 649.2,592.1 655.3,586.1 663.4,582.0 669.4,580.0M635.0,610.4 631.0,618.5 626.9,624.5 622.9,630.6 610.7,632.6 602.6,629.6 596.6,632.6 592.5,640.7 588.5,646.8 580.4,654.9 570.2,652.9 568.2,646.8 564.2,636.7 558.1,632.6 550.0,629.6M554.0,600.2 554.0,620.5 556.1,632.6M626.9,624.5 637.0,628.6 641.1,626.6 651.2,623.5 659.3,618.5 663.4,612.4 663.4,604.3 667.4,600.2 670.0,596.2M637.0,628.6 633.0,638.7 631.0,650.9 635.0,658.9 633.0,667.0 635.0,675.1 641.1,687.3 637.0,697.4 633.0,705.5 626.9,709.6 620.9,707.5 608.7,707.5 598.6,706.5 590.5,713.6 584.4,721.7 580.4,729.8M626.9,709.6 622.9,717.6 624.9,725.7 639.1,733.8 645.1,729.8 655.3,727.8 663.4,719.7 670.0,719.7M635.0,705.5 645.1,709.6 655.3,711.6 663.4,715.7 669.4,719.7M641.1,650.9 647.2,650.9 655.3,648.8 663.4,648.8 670.0,646.8M345.5,142.1 360.7,142.1M360.7,141.5 362.0,137.6 365.8,134.5 370.9,135.1 372.2,137.6 370.9,144.0 373.5,149.1 374.7,152.9 370.9,155.5 369.6,163.1 368.4,173.3 364.5,175.8 365.8,180.9 368.4,184.7 367.1,189.8 369.6,193.6 372.2,196.2 370.9,201.3 368.4,206.4 363.3,210.2 359.5,208.9 356.9,205.1 358.2,198.7 354.4,194.9 348.0,193.6 344.2,192.4 338.5,192.4 337.8,186.0 336.5,180.9 334.0,177.1 332.7,172.0 330.2,166.9 328.9,164.4M363.3,210.2 368.4,211.5 378.5,211.5 381.1,206.4 378.5,202.5 382.4,200.0 386.2,201.3 387.5,196.2 391.3,193.6 396.4,191.1 401.5,193.6 405.3,198.7 411.6,203.8 418.0,207.6 424.4,206.4 430.7,210.2 438.4,210.2 442.2,206.4 448.5,206.4 452.4,211.5 453.6,206.4M359.5,208.9 360.7,216.5 358.2,221.6 355.6,226.7 356.9,235.0" fill="none" stroke="#000" stroke-width="1" shape-rendering="crispEdges"/>
<path d="M228.3,51.1 236.5,58.3 238.6,63.4 246.8,68.6 252.0,74.8 255.1,85.1 261.3,90.2 271.6,90.2 279.8,91.3 288.0,89.2 296.3,86.1 304.5,89.2 310.7,91.3 316.9,89.2 325.1,84.0 326.0,83.2 326.8,78.6 325.2,75.5 327.5,72.5 328.3,63.3 333.6,59.5 345.9,57.2 361.2,57.2 367.3,60.2 373.4,64.8 378.0,70.9 381.1,78.6 379.5,83.2 384.1,86.2 387.2,93.9 391.8,100.8 394.8,96.9 397.9,90.8 402.5,88.5 407.1,92.4 413.2,98.5 420.8,100.0 425.4,95.4 430.0,93.1M311.7,91.3 309.7,97.4 310.7,103.6 314.8,107.7 325.1,113.9 337.5,116.0 340.6,119.1 339.5,126.3 339.5,130.4 341.6,136.6 344.7,144.8 345.7,151.0 341.6,153.0 333.3,157.2 329.2,161.3 325.1,164.4 316.9,167.5 309.7,171.6 304.5,167.5 300.4,160.3 296.3,153.0 295.2,146.9 292.2,141.7 286.0,138.6 283.9,136.6 273.6,136.6 267.4,138.6 264.3,142.7 262.3,153.0 264.3,160.3 265.4,167.5 266.4,175.7 267.4,182.9 259.2,185.0 251.0,186.0 244.8,190.1 243.7,198.4 244.8,206.6 246.2,205.9 245.1,211.8 242.7,217.6 241.5,222.9 235.6,224.7 229.8,227.6 225.1,228.8 220.4,227.6 218.0,227.6M327.5,83.2 330.6,86.2 336.7,92.4 342.8,96.9 355.1,100.0 358.1,104.6 367.3,106.1 370.4,109.2 371.9,116.8 376.5,121.4 378.0,124.5 382.6,130.6 387.2,135.9 400.9,135.9 405.5,139.8 413.2,138.2 419.3,144.4 423.9,141.3 428.5,152.0 430.0,153.5M220.4,244.1 229.8,245.3 233.3,249.4 233.3,256.5 232.1,265.9 233.3,272.9 240.4,277.6 249.8,277.6 255.6,281.2 261.5,290.6 265.1,290.6 269.8,291.2 272.1,284.7 278.0,284.1 283.9,281.2 288.6,276.5 292.1,275.3M285.1,281.2 286.2,289.4 288.6,300.0M420.0,99.5 426.2,95.4 434.4,93.3 436.5,84.0 446.8,82.0 448.8,79.9 459.1,84.0 461.2,88.2 464.3,92.3 466.3,97.4 467.4,107.7 477.7,103.6 483.9,102.6 485.9,89.2 492.1,83.0 498.3,78.9 507.5,78.9 510.6,72.7 510.6,68.6 514.7,62.4 517.8,56.2 518.9,50.1M429.9,153.3 428.2,151.0 431.3,157.2 431.3,167.5 434.4,169.5 450.9,167.5 463.3,166.4 465.3,169.5 464.3,175.7 462.2,181.9 460.2,188.1 457.1,192.2 454.0,200.4 453.0,206.6 450.9,210.7 447.8,212.8 448.8,219.0 450.9,223.1M545.6,50.1 543.6,64.5 551.8,70.7 560.1,72.7 568.3,78.9 572.4,85.1 580.7,89.2 585.0,92.3M575.0,89.2 587.4,94.3 599.7,100.5 605.9,101.6 612.1,106.7 622.4,111.9 629.6,113.9 630.6,124.2 633.7,130.4 634.7,136.6 638.9,144.8 643.0,155.1 646.1,160.3 641.9,166.4 646.1,169.5 647.1,175.7 650.2,177.8 651.2,188.1 654.3,200.4 657.4,206.6 663.6,212.8 664.6,223.1M285.5,280.0 286.7,287.6 288.6,299.1 290.5,313.1 290.5,330.9 289.3,341.1 288.0,348.7 286.7,351.9 276.5,351.3 271.5,351.3 265.1,355.1 257.5,360.2 256.2,366.5 252.4,371.6 247.9,378.0 248.5,385.3 249.8,391.6 254.9,398.0 260.0,400.5 263.8,409.5 271.5,404.4 279.1,412.6 286.7,410.7 291.8,418.4 299.5,420.9 302.0,428.5 295.6,429.8 285.5,438.7 286.7,445.7 279.1,446.4 279.1,454.0 281.6,459.1 286.7,461.6 289.9,469.3 289.3,470.0 288.6,475.1 291.8,477.0 287.4,481.5 288.6,487.8 294.4,489.1 295.6,492.9 300.7,496.7 302.0,505.6 302.6,520.9 305.8,526.0 306.5,532.4 299.5,538.7 294.4,542.5 289.6,540.0 281.6,537.4 274.0,532.4 271.5,531.1 258.7,531.7 256.2,536.2 256.2,540.0 249.8,546.4 242.2,551.5 239.6,548.9 230.7,548.9 226.9,546.4 230.1,550.2 230.7,557.8 232.0,561.6 225.6,561.0 220.5,559.1 218.0,559.1M218.0,374.5 220.5,375.1 226.9,375.1 228.2,367.8 232.0,367.8 237.1,371.6 237.1,377.6 234.5,382.7 238.4,386.5 244.7,387.8 248.5,385.3M306.5,532.4 313.5,532.4 318.5,536.8 324.9,532.4 333.8,526.0 340.2,524.7 342.1,514.5 346.5,510.7 352.9,510.7 358.0,513.3M455.3,223.6 461.6,221.7 466.7,217.3 468.6,220.5 470.5,237.0 475.6,240.8 470.5,244.6 469.9,249.7 474.4,254.8 478.2,259.9 480.7,262.5 488.4,261.2 498.5,261.8 506.2,263.7 509.4,259.9 510.0,251.0 514.5,248.5 515.1,244.6 520.2,240.8 529.1,242.1 531.6,242.1 532.9,247.2 538.0,252.3 544.4,253.5 545.0,262.5 546.9,271.4 548.2,275.2 543.1,276.5 540.5,284.1 536.7,287.9 531.6,282.8 525.3,280.3 521.5,276.5 516.4,276.5 508.7,273.3 502.4,275.2 497.9,273.9 496.0,277.1 498.5,281.5 498.5,285.4 504.9,286.6 506.2,300.0M654.0,195.0 654.6,201.4 659.1,207.7 664.2,212.8 664.8,219.2 662.9,221.7 668.0,225.5 670.5,234.5 674.4,237.0 675.6,243.4 678.2,251.0 673.1,254.8 675.6,258.6 678.2,263.7 676.9,267.5 675.6,272.6 680.7,276.5 688.4,281.5 697.3,284.1 704.9,287.9 710.0,291.7M690.0,282.5 697.6,284.4 706.5,289.5 714.2,294.5 714.8,303.5 712.3,309.8 715.5,313.6 716.7,318.7 726.9,321.3 740.9,326.4 748.5,334.0 752.4,344.2 755.3,349.6 755.3,358.4M690.9,346.4 701.8,343.1 710.5,340.9 716.0,344.2 719.3,349.6 725.8,351.8 734.5,355.1 745.5,358.4 755.3,358.9M699.6,348.5 706.2,351.8 714.9,358.4 725.8,362.7 734.5,364.9 745.5,368.2 754.2,371.5 754.2,376.9 749.8,379.6 741.1,378.0 731.3,373.6 722.5,371.5 716.0,368.2M689.8,354.0 696.4,358.4 702.9,362.7 708.4,373.6 712.7,375.8 719.3,380.2 726.9,387.8 734.5,392.2 742.2,397.6 746.5,406.4 750.9,417.3 752.0,420.0M709.5,374.7 704.0,378.0 698.5,382.4 696.4,388.9 696.4,395.5 692.0,397.6 690.4,400.9 690.9,406.4 688.7,410.7 680.0,410.7M506.2,300.0 506.9,298.9 504.4,301.5 503.7,305.3 500.5,307.8 490.4,312.9 489.1,319.3 484.0,321.8 482.1,326.9 480.8,337.1 486.5,340.9 491.6,346.0 491.6,352.4 500.5,352.4 504.4,354.9 503.1,361.3 510.7,359.4 517.1,363.8 519.6,370.2 521.5,379.1 520.3,384.2 513.3,388.0 508.2,395.0M512.0,390.0 508.2,395.1 513.3,401.5 523.5,402.1 536.2,402.1 543.8,395.7 548.9,398.9 557.8,398.9 559.1,404.0 566.7,407.8 573.1,409.1 579.5,410.4 582.0,407.8 590.9,406.5 602.4,406.5 604.9,415.5 610.0,421.8M579.5,410.4 578.2,418.0 578.2,425.6 574.4,433.3 574.4,438.4 571.8,443.5 568.0,446.0 566.7,452.4 561.6,454.9 559.1,453.6 556.5,456.2 551.5,457.5 548.9,461.3 550.2,466.4 554.0,470.2 555.3,477.8 559.1,480.4 552.7,481.6 548.9,484.2 546.4,489.3 541.3,488.0 533.6,486.7 527.3,482.9 523.5,484.2 520.9,489.3 520.9,495.0M600.0,406.5 602.5,409.1 605.1,415.5 612.7,423.1 621.6,428.2 635.6,428.2 636.9,432.0 640.7,432.0 642.0,438.4 645.8,446.0 649.6,442.2 653.5,437.7 658.5,437.7 662.4,433.3 662.4,426.9 668.7,423.7 676.4,423.1 680.2,421.8 682.7,421.8 684.0,428.2 685.3,435.8 684.0,439.6 689.1,438.4 694.2,439.6 698.0,443.5 703.1,444.7 705.6,449.8 706.9,452.4 714.5,449.8 719.6,443.5 726.0,439.6 731.1,437.7 740.0,437.7M677.6,423.1 676.4,411.6 682.7,410.4 690.4,409.1 691.6,400.2 692.9,395.1 696.7,396.4 695.5,390.0M706.9,452.4 699.3,456.2 691.6,462.5 686.5,465.1 682.7,470.2 680.2,477.8 677.6,481.6 675.1,484.2 670.0,485.5 663.6,480.4 654.7,479.1 647.1,481.6 640.7,481.6M654.7,481.6 656.0,495.0M689.1,495.0 700.5,488.0 712.0,488.0 719.6,495.0M752.0,420.0 751.8,418.7 756.2,428.5 755.6,432.9 751.8,437.3 740.0,437.8M767.1,489.6 779.1,485.3 781.3,491.8 795.5,491.8 796.5,494.5 782.4,495.1 775.8,498.4M690.0,492.7 701.5,487.6 711.6,487.6 719.3,494.0 724.4,499.1 726.9,505.5 730.7,509.3 734.5,513.1 738.4,518.2 742.2,520.7 747.3,520.1 751.1,522.0 756.2,523.3 761.3,525.8 766.4,527.1 771.5,527.1 774.0,528.4 768.9,532.2 762.5,536.0 756.2,538.5 753.6,539.8 752.4,543.6 749.8,548.7 746.0,552.5 740.9,556.4 735.8,558.9 729.5,560.2 721.8,561.5 719.3,566.5 720.5,571.6 724.4,570.4 728.2,566.5 733.3,564.0 740.9,562.7 746.0,561.5 749.8,558.9 753.6,555.1 758.7,552.5 762.5,551.3 766.4,552.5M721.1,595.5 726.2,600.5 727.5,608.2 726.2,618.4 731.3,623.5 736.4,628.5 735.1,633.6 728.7,637.5 725.5,639.4 724.9,643.8 726.2,648.9 730.0,656.5 731.3,664.2 736.4,671.8 737.6,675.0M731.6,660.0 733.5,668.9 738.0,672.7 734.8,680.4 729.1,674.0 721.5,674.6 716.4,682.9 713.2,690.5 708.7,694.4 706.2,698.2 699.8,700.7M699.8,668.9 706.2,670.2 704.9,676.5 708.7,685.5 711.3,691.8 710.0,696.9 703.6,698.2 698.5,698.2 696.0,693.1 697.3,688.0 694.7,679.1 698.5,671.5 699.8,668.9M693.5,689.3 688.4,690.5 685.8,695.6 683.3,703.3 678.2,705.8 671.8,707.1 674.4,710.9 673.1,716.0 670.5,722.4 665.5,728.7 660.4,732.5 660.4,737.6 655.3,742.7 654.6,749.1M639.1,481.3 651.8,482.5 655.6,492.7 660.7,502.9 670.9,505.5 683.6,499.1 690.0,495.3M560.0,481.3 554.9,482.5 549.8,485.1 547.3,489.5 540.9,487.6 533.3,487.6 528.2,483.8 525.6,482.5 521.8,487.6 520.5,492.7 524.4,496.5 520.5,500.4 519.3,502.9 521.8,505.5 520.5,510.5 521.8,516.9 521.8,522.0 518.0,523.3 515.5,528.4 510.4,532.2 509.1,537.3 510.4,541.1 506.5,544.9 502.7,548.7 497.6,551.3 493.8,555.1 491.3,558.9 488.7,562.1 482.4,564.0 477.3,565.3 476.0,569.1 472.2,570.4 467.1,574.2 468.4,578.0 464.5,581.8 458.2,585.0M420.0,556.4 425.1,553.2 428.9,558.9 436.5,557.0 445.5,558.9 453.1,555.7 458.2,561.5 462.0,564.0 462.0,571.6 467.1,574.2M358.0,513.3 359.8,515.6 364.9,520.7 366.2,525.8 362.4,532.2 357.3,536.0 348.4,544.9 347.1,548.7 349.6,553.8 352.2,556.4 357.3,555.1 362.4,556.4 368.7,551.3 375.1,545.5 381.5,545.5 382.7,541.1 385.3,537.3 381.5,533.5 382.7,530.9 386.5,525.8 390.4,523.9 394.2,524.5 394.2,532.2 399.3,532.8 401.8,530.9 406.9,530.9 408.2,538.5 409.5,544.9 414.5,548.7 418.4,553.8 424.7,553.8 428.5,558.9 434.9,557.6 440.0,557.6M396.0,714.8 399.6,713.6 402.0,716.0 408.0,711.2 414.0,706.4 416.4,706.4 420.0,712.4 423.6,717.2 429.6,720.8 433.2,720.8 436.8,712.4 441.6,708.8 447.6,706.4 450.0,705.8M396.0,714.8 397.2,722.0 394.8,728.0 387.6,731.6 381.6,734.0 375.6,736.4 374.4,741.2 379.2,744.8 381.6,750.0M464.5,581.8 466.2,580.0M466.2,580.0 459.6,584.4 456.4,586.5 455.3,590.9 454.2,595.3 457.5,601.8 458.5,609.5 466.2,612.7 468.4,618.2 472.7,618.2 474.9,624.7 481.5,630.2 483.6,637.8 485.8,642.2 484.7,647.6 485.8,656.4 489.1,660.7 486.9,667.3 486.9,670.0M489.1,660.0 486.9,666.5 488.0,670.9 485.8,674.2 481.5,677.5 477.1,682.9 480.4,686.2 480.4,692.7 472.7,694.9 462.9,698.2 458.5,705.8 450.9,704.7 440.0,709.1M485.8,674.2 491.3,677.5 496.7,678.5 501.1,679.6 505.5,676.4 507.6,675.3 514.2,680.7 515.3,690.5 507.6,698.2 508.7,706.9 514.2,710.2 517.5,723.3 521.8,729.8 522.9,745.1 520.7,750.0M557.8,750.0 560.0,746.2M558.1,750.0 558.1,748.0 566.2,746.0 568.2,735.9 578.3,733.9 580.4,741.9 584.4,750.0M669.4,719.7 663.4,729.8 659.3,737.9 655.3,741.9 655.3,750.0" fill="none" stroke="#1e3cff" stroke-width="2" stroke-linejoin="round" shape-rendering="crispEdges"/>
<path d="M812.9,438.4 817.3,436.7M796.5,447.1 805.3,449.3 808.5,454.7 798.0,452.0M822.7,451.5 828.2,449.8M785.6,456.9 786.5,456.0M768.2,456.9 768.2,463.5M759.5,489.6 762.7,485.3M768.9,490.2 779.1,485.1 781.6,490.2 776.5,494.0 768.9,490.2M782.9,492.7 795.6,492.7 795.6,495.3 784.2,495.3 782.9,492.7M758.7,500.4 766.4,499.1 771.5,502.9 779.1,504.2 786.7,509.3 791.8,515.6 795.6,518.2 794.4,522.0 796.9,525.8 793.1,530.9 788.0,533.5 781.6,536.0 784.2,541.1 779.1,546.2 777.8,550.0 771.5,546.2 766.4,539.8 761.3,538.5 758.7,543.6 756.2,541.1 761.3,534.7 768.9,530.9 774.0,528.4 768.9,524.5 761.3,522.0 756.2,519.5 751.1,516.9 751.1,510.5 757.5,509.3 758.7,505.5 758.7,500.4M766.4,516.9 771.5,518.2 776.5,523.3 781.6,525.8 786.7,524.5 789.3,528.4 785.5,532.2M779.1,534.7 786.7,536.0 788.0,541.1 781.6,539.8M761.3,541.1 768.9,537.3 776.5,543.6 777.8,548.7 771.5,546.2 766.4,543.6M756.2,555.1 758.7,561.5 761.3,569.1 757.5,576.7 761.3,585.0M746.0,576.7 748.5,585.0M776.5,571.6 781.6,569.1M800.7,496.5 801.5,497.0M822.4,504.2 823.2,505.0M816.0,497.8 818.5,499.1M726.2,585.3 736.4,581.5 746.5,576.4 751.6,585.3 761.8,591.6 765.6,595.5 759.3,605.6 749.1,603.1 741.5,599.3 731.3,595.5 723.6,599.3 721.1,592.9 726.2,585.3M730.0,590.0 745.0,585.0 755.0,595.0M755.5,570.0 761.8,582.7 764.4,592.9M750.4,629.8 756.7,636.2M754.2,656.5 756.7,657.8M695.6,671.8 702.0,668.0 704.5,671.8M777.1,570.0 780.9,572.5M689.6,707.1 694.7,705.8 696.0,708.4 690.9,709.6 689.6,707.1M688.4,716.0 698.5,714.7 697.3,724.9 692.2,723.6 688.4,716.0M701.1,704.5 703.6,703.3M724.0,696.9 727.8,694.4M720.3,564.5 729.3,560.0 738.4,562.3 733.9,569.0 722.6,571.3 720.3,564.5M754.2,560.0 760.9,566.8 758.7,578.1 763.2,587.1 767.7,593.9 760.9,602.9 751.9,598.4 747.4,584.8 745.1,575.8 749.7,566.8M720.3,596.1 729.3,584.8 738.4,582.6 736.1,593.9 740.6,605.1 733.9,609.7 727.1,618.7 738.4,627.7 733.9,634.5 724.8,636.7M729.3,650.3 736.1,661.6 733.9,672.9 727.1,677.4M749.7,627.7 756.4,636.7M754.2,657.1 757.6,659.3M776.7,571.3 781.3,569.0M742.0,588.0 748.0,592.0 744.0,600.0M724.0,575.0 732.0,578.0 728.0,590.0M785.6,507.1 789.8,510.3 793.0,515.6 796.1,520.8 797.2,527.2 794.0,531.4 789.8,533.6M780.3,535.7 786.6,535.7 787.7,542.0 783.4,543.1 780.3,538.9M788.7,518.7 793.0,516.6 795.1,519.8 791.9,523.0 789.8,528.3 793.0,531.4M765.4,520.8 770.7,517.7 775.0,519.8M775.0,509.2 780.3,510.3 784.5,509.2" fill="none" stroke="#1e3cff" stroke-width="2" stroke-linejoin="round" stroke-linecap="round" shape-rendering="crispEdges"/>
<circle cx="390.2416641174671" cy="119.12266748241052" r="5" fill="none" stroke="#8200dc" stroke-width="1.8"/>
<circle cx="356.5922300397675" cy="146.65402263689202" r="5" fill="none" stroke="#8200dc" stroke-width="1.8"/>
<circle cx="371.8874273478128" cy="175.71489752217803" r="5" fill="none" stroke="#8200dc" stroke-width="1.8"/>
<circle cx="475.61277033985584" cy="147.89701338825952" r="5" fill="none" stroke="#8200dc" stroke-width="1.8"/>
<circle cx="541.9361483007209" cy="190.12152420185376" r="5" fill="none" stroke="#8200dc" stroke-width="1.8"/>
<circle cx="617.8424304840371" cy="201.45005149330586" r="5" fill="none" stroke="#8200dc" stroke-width="1.8"/>
<circle cx="400.92687950566426" cy="243.74665293511845" r="5" fill="none" stroke="#8200dc" stroke-width="1.8"/>
<circle cx="373.12049433573634" cy="272.5829042224511" r="5" fill="none" stroke="#8200dc" stroke-width="1.8"/>
<circle cx="395.77754891864055" cy="343.64366632337794" r="5" fill="none" stroke="#8200dc" stroke-width="1.8"/>
<circle cx="294.4" cy="543.8" r="5" fill="none" stroke="#8200dc" stroke-width="1.8"/>
<circle cx="476.3" cy="296.8" r="5" fill="none" stroke="#8200dc" stroke-width="1.8"/>
<circle cx="562.8" cy="293.6" r="5" fill="none" stroke="#8200dc" stroke-width="1.8"/>
<circle cx="600.5" cy="284.1" r="5" fill="none" stroke="#8200dc" stroke-width="1.8"/>
<circle cx="723.1" cy="400.4" r="5" fill="none" stroke="#8200dc" stroke-width="1.8"/>
<circle cx="512.6" cy="326.9" r="5" fill="none" stroke="#8200dc" stroke-width="1.8"/>
<circle cx="564.2" cy="311.6" r="5" fill="none" stroke="#8200dc" stroke-width="1.8"/>
<circle cx="603.6" cy="349.8" r="5" fill="none" stroke="#8200dc" stroke-width="1.8"/>
<circle cx="490.4" cy="371.5" r="5" fill="none" stroke="#8200dc" stroke-width="1.8"/>
<circle cx="481.5" cy="391.8" r="5" fill="none" stroke="#8200dc" stroke-width="1.8"/>
<circle cx="689.7" cy="323.1" r="5" fill="none" stroke="#8200dc" stroke-width="1.8"/>
<circle cx="630.5" cy="368.9" r="5" fill="none" stroke="#8200dc" stroke-width="1.8"/>
<circle cx="656" cy="391.8" r="5" fill="none" stroke="#8200dc" stroke-width="1.8"/>
<circle cx="438.6" cy="430.1" r="5" fill="none" stroke="#8200dc" stroke-width="1.8"/>
<circle cx="510.7" cy="428.2" r="5" fill="none" stroke="#8200dc" stroke-width="1.8"/>
<circle cx="615.3" cy="437.1" r="5" fill="none" stroke="#8200dc" stroke-width="1.8"/>
<circle cx="666.8" cy="444.7" r="5" fill="none" stroke="#8200dc" stroke-width="1.8"/>
<circle cx="622.3" cy="491.8" r="5" fill="none" stroke="#8200dc" stroke-width="1.8"/>
<circle cx="728.8" cy="530.3" r="5" fill="none" stroke="#8200dc" stroke-width="1.8"/>
<circle cx="779.7" cy="518.2" r="5" fill="none" stroke="#8200dc" stroke-width="1.8"/>
<circle cx="718.5" cy="642.5" r="5" fill="none" stroke="#8200dc" stroke-width="1.8"/>
<circle cx="653.1" cy="516.3" r="5" fill="none" stroke="#8200dc" stroke-width="1.8"/>
<circle cx="478.5" cy="543.6" r="5" fill="none" stroke="#8200dc" stroke-width="1.8"/>
<circle cx="389.1" cy="583.1" r="5" fill="none" stroke="#8200dc" stroke-width="1.8"/>
<circle cx="287.8" cy="639.8" r="5" fill="none" stroke="#8200dc" stroke-width="1.8"/>
<circle cx="380.4" cy="678.8" r="5" fill="none" stroke="#8200dc" stroke-width="1.8"/>
<circle cx="447.2" cy="659.6" r="5" fill="none" stroke="#8200dc" stroke-width="1.8"/>
<circle cx="520.7" cy="612.7" r="5" fill="none" stroke="#8200dc" stroke-width="1.8"/>
<circle cx="580" cy="599.2" r="5" fill="none" stroke="#8200dc" stroke-width="1.8"/>
<path d="M251.6,64.4L251.6,81.4M248.8,75.9L251.6,81.4L254.4,75.9M285.2,64.4L285.2,81.4M282.4,75.9L285.2,81.4L288.0,75.9M318.8,64.4L318.8,83.4M316.0,77.9L318.8,83.4L321.6,77.9M352.5,64.4L352.5,83.4M349.7,77.9L352.5,83.4L355.3,77.9M386.1,64.4L386.1,82.4M383.3,76.9L386.1,82.4L388.9,76.9M419.7,64.4L416.1,86.0M414.2,80.1L416.1,86.0L419.8,81.0M453.3,64.4L449.5,87.2M447.7,81.3L449.5,87.2L453.2,82.2M486.9,64.4L482.9,90.8M481.0,84.9L482.9,90.8L486.5,85.8M520.6,64.4L518.9,88.9M516.4,83.2L518.9,88.9L522.0,83.6M554.2,64.4L545.9,102.7M544.3,96.7L545.9,102.7L549.8,97.9M587.8,64.4L579.0,107.9M577.3,102.0L579.0,107.9L582.8,103.1M621.4,64.4L610.7,111.0M609.2,105.0L610.7,111.0L614.7,106.3M655.0,64.4L639.6,111.8M638.7,105.7L639.6,111.8L644.0,107.4M688.7,64.4L671.8,116.9M670.8,110.8L671.8,116.9L676.1,112.5M722.3,64.4L705.1,119.3M704.1,113.2L705.1,119.3L709.4,114.9M755.9,64.4L738.4,120.7M737.4,114.6L738.4,120.7L742.7,116.3M789.5,64.4L770.2,120.2M769.4,114.1L770.2,120.2L774.7,115.9M823.1,64.4L801.5,120.7M800.9,114.6L801.5,120.7L806.1,116.6M856.8,64.4L833.7,122.2M833.1,116.1L833.7,122.2L838.3,118.1M251.6,104.8L251.6,122.2M248.8,116.8L251.6,122.2L254.4,116.8M285.2,104.8L285.2,122.2M282.4,116.8L285.2,122.2L288.0,116.8M318.8,104.8L318.8,123.0M316.0,117.5L318.8,123.0L321.6,117.5M352.5,104.8L352.5,123.0M349.7,117.5L352.5,123.0L355.3,117.5M386.1,104.8L386.1,121.8M383.3,116.2L386.1,121.8L388.9,116.2M419.7,104.8L419.7,123.5M416.9,118.0L419.7,123.5L422.5,118.0M453.3,104.8L449.5,127.5M447.7,121.7L449.5,127.5L453.2,122.6M486.9,104.8L484.0,132.3M481.8,126.6L484.0,132.3L487.4,127.2M520.6,104.8L515.8,133.4M513.9,127.6L515.8,133.4L519.4,128.5M554.2,104.8L547.8,137.1M546.1,131.1L547.8,137.1L551.6,132.2M587.8,104.8L581.2,143.2M579.4,137.4L581.2,143.2L584.9,138.3M621.4,104.8L613.1,149.2M611.4,143.3L613.1,149.2L616.9,144.4M655.0,104.8L644.0,155.2M642.5,149.2L644.0,155.2L647.9,150.4M688.7,104.8L673.3,160.2M672.0,154.2L673.3,160.2L677.4,155.7M722.3,104.8L707.2,161.1M705.9,155.0L707.2,161.1L711.3,156.5M755.9,104.8L739.9,160.2M738.7,154.2L739.9,160.2L744.1,155.7M789.5,104.8L770.8,160.2M769.9,154.1L770.8,160.2L775.2,155.9M823.1,104.8L803.5,161.1M802.7,154.9L803.5,161.1L808.0,156.8M856.8,104.8L835.2,161.1M834.5,154.9L835.2,161.1L839.7,156.9M251.6,145.1L251.6,165.7M248.8,160.2L251.6,165.7L254.4,160.2M285.2,145.1L285.2,165.7M282.4,160.2L285.2,165.7L288.0,160.2M318.8,145.1L318.8,165.7M316.0,160.2L318.8,165.7L321.6,160.2M352.5,145.1L352.5,165.7M349.7,160.2L352.5,165.7L355.3,160.2M386.1,145.1L386.1,166.7M383.3,161.2L386.1,166.7L388.9,161.2M419.7,145.1L419.7,166.7M416.9,161.2L419.7,166.7L422.5,161.2M453.3,145.1L451.9,170.3M449.4,164.7L451.9,170.3L455.0,165.0M486.9,145.1L484.0,171.5M481.9,165.7L484.0,171.5L487.4,166.3M520.6,145.1L515.4,173.8M513.6,167.9L515.4,173.8L519.1,168.9M554.2,145.1L550.6,177.4M548.4,171.6L550.6,177.4L554.0,172.2M587.8,145.1L583.4,179.8M581.3,174.0L583.4,179.8L586.9,174.7M621.4,145.1L617.5,182.8M615.3,177.0L617.5,182.8L620.9,177.6M655.0,145.1L647.0,197.6M645.1,191.7L647.0,197.6L650.6,192.6M688.7,145.1L677.7,202.0M676.0,196.1L677.7,202.0L681.5,197.1M722.3,145.1L711.0,201.4M709.3,195.5L711.0,201.4L714.8,196.6M755.9,145.1L741.1,200.6M739.8,194.6L741.1,200.6L745.2,196.0M789.5,145.1L773.8,200.6M772.6,194.5L773.8,200.6L778.0,196.1M823.1,145.1L806.5,200.6M805.4,194.5L806.5,200.6L810.8,196.1M856.8,145.1L838.1,199.7M837.2,193.6L838.1,199.7L842.5,195.4M251.6,185.5L251.6,207.1M248.8,201.6L251.6,207.1L254.4,201.6M285.2,185.5L285.2,207.1M282.4,201.6L285.2,207.1L288.0,201.6M318.8,185.5L318.8,207.1M316.0,201.6L318.8,207.1L321.6,201.6M352.5,185.5L352.5,207.1M349.7,201.6L352.5,207.1L355.3,201.6M386.1,185.5L386.1,206.4M383.3,200.9L386.1,206.4L388.9,200.9M419.7,185.5L419.7,210.0M416.9,204.5L419.7,210.0L422.5,204.5M453.3,185.5L452.6,212.3M450.0,206.7L452.6,212.3L455.6,206.8M486.9,185.5L484.0,214.7M481.8,208.9L484.0,214.7L487.4,209.5M520.6,185.5L517.3,215.9M515.1,210.1L517.3,215.9L520.6,210.7M554.2,185.5L552.5,219.5M550.0,213.8L552.5,219.5L555.6,214.1M587.8,185.5L586.3,223.5M583.7,217.8L586.3,223.5L589.3,218.1M621.4,185.5L620.5,223.5M617.9,217.9L620.5,223.5L623.4,218.0M655.0,185.5L652.9,236.8M650.4,231.1L652.9,236.8L656.0,231.4M688.7,185.5L680.7,239.8M678.7,233.9L680.7,239.8L684.2,234.7M722.3,185.5L713.4,239.8M711.5,233.9L713.4,239.8L717.0,234.8M755.9,185.5L743.4,239.8M741.9,233.8L743.4,239.8L747.4,235.0M789.5,185.5L776.2,241.2M774.8,235.3L776.2,241.2L780.2,236.5M823.1,185.5L809.5,242.7M808.1,236.7L809.5,242.7L813.5,237.9M856.8,185.5L839.6,242.7M838.5,236.6L839.6,242.7L843.8,238.2M251.6,225.8L251.6,245.1M248.8,239.6L251.6,245.1L254.4,239.6M285.2,225.8L285.2,246.3M282.4,240.8L285.2,246.3L288.0,240.8M318.8,225.8L318.8,247.5M316.0,242.0L318.8,247.5L321.6,242.0M352.5,225.8L352.5,248.7M349.7,243.2L352.5,248.7L355.3,243.2M386.1,225.8L384.9,249.9M382.4,244.3L384.9,249.9L388.0,244.5M419.7,225.8L418.3,251.1M415.8,245.5L418.3,251.1L421.4,245.8M453.3,225.8L453.3,252.3M450.5,246.8L453.3,252.3L456.1,246.8M486.9,225.8L483.8,258.4M481.6,252.7L483.8,258.4L487.1,253.2M520.6,225.8L519.4,257.2M516.8,251.6L519.4,257.2L522.4,251.8M554.2,225.8L552.3,260.8M549.8,255.2L552.3,260.8L555.4,255.5M587.8,225.8L586.9,263.0M584.2,257.4L586.9,263.0L589.8,257.6M621.4,225.8L620.5,262.8M617.9,257.2L620.5,262.8L623.5,257.4M655.0,225.8L654.4,267.3M651.7,261.8L654.4,267.3L657.3,261.8M688.7,225.8L683.1,276.2M680.9,270.4L683.1,276.2L686.5,271.0M722.3,225.8L714.0,277.7M712.1,271.8L714.0,277.7L717.6,272.7M755.9,225.8L744.0,279.2M742.5,273.2L744.0,279.2L747.9,274.4M789.5,225.8L778.2,282.1M776.6,276.2L778.2,282.1L782.0,277.3M823.1,225.8L813.3,286.6M811.5,280.7L813.3,286.6L817.0,281.6M856.8,225.8L843.5,288.1M841.9,282.1L843.5,288.1L847.3,283.3M251.6,266.1L251.6,286.1M248.8,280.6L251.6,286.1L254.4,280.6M285.2,266.1L285.2,286.1M282.4,280.6L285.2,286.1L288.0,280.6M318.8,266.1L318.8,286.1M316.0,280.6L318.8,286.1L321.6,280.6M352.5,266.1L352.5,288.5M349.7,283.0L352.5,288.5L355.3,283.0M386.1,266.1L384.9,290.9M382.3,285.3L384.9,290.9L387.9,285.6M419.7,266.1L419.7,290.9M416.9,285.4L419.7,290.9L422.5,285.4M453.3,266.1L453.3,292.2M450.5,286.8L453.3,292.2L456.1,286.8M486.9,266.1L487.9,297.0M485.0,291.6L487.9,297.0L490.6,291.5M520.6,266.1L521.3,298.2M518.3,292.8L521.3,298.2L523.9,292.7M554.2,266.1L554.7,300.6M551.8,295.2L554.7,300.6L557.4,295.1M587.8,266.1L589.3,301.3M586.3,296.0L589.3,301.3L591.9,295.7M621.4,266.1L622.2,301.3M619.3,295.9L622.2,301.3L624.9,295.8M655.0,266.1L655.0,295.8M652.2,290.2L655.0,295.8L657.8,290.2M688.7,266.1L688.4,316.8M685.6,311.3L688.4,316.8L691.2,311.4M722.3,266.1L715.3,318.2M713.2,312.4L715.3,318.2L718.8,313.2M755.9,266.1L746.9,323.9M745.0,318.1L746.9,323.9L750.5,318.9M789.5,266.1L782.7,326.8M780.6,321.0L782.7,326.8L786.1,321.6M823.1,266.1L817.5,330.9M815.2,325.2L817.5,330.9L820.8,325.7M856.8,266.1L849.5,330.9M847.3,325.2L849.5,330.9L852.9,325.8M251.6,306.5L251.6,326.0M248.8,320.5L251.6,326.0L254.4,320.5M285.2,306.5L285.9,324.8M282.9,319.4L285.9,324.8L288.5,319.2M318.8,306.5L319.3,327.2M316.4,321.8L319.3,327.2L322.0,321.6M352.5,306.5L353.7,329.7M350.6,324.4L353.7,329.7L356.2,324.1M386.1,306.5L386.8,330.9M383.8,325.5L386.8,330.9L389.4,325.3M419.7,306.5L419.7,333.3M416.9,327.8L419.7,333.3L422.5,327.8M453.3,306.5L454.3,334.5M451.3,329.1L454.3,334.5L456.9,328.9M486.9,306.5L489.8,335.7M486.5,330.5L489.8,335.7L492.1,330.0M520.6,306.5L524.2,336.9M520.7,331.8L524.2,336.9L526.3,331.1M554.2,306.5L558.1,340.5M554.7,335.4L558.1,340.5L560.2,334.7M587.8,306.5L591.5,342.5M588.2,337.3L591.5,342.5L593.7,336.7M621.4,306.5L623.7,339.5M620.5,334.2L623.7,339.5L626.1,333.8M655.0,306.5L655.8,338.1M652.9,332.7L655.8,338.1L658.5,332.5M688.7,306.5L689.8,347.9M686.8,342.5L689.8,347.9L692.4,342.3M722.3,306.5L722.3,362.0M719.5,356.5L722.3,362.0L725.1,356.5M755.9,306.5L754.5,367.7M751.8,362.1L754.5,367.7L757.4,362.3M789.5,306.5L789.8,369.1M787.0,363.6L789.8,369.1L792.6,363.6M823.1,306.5L825.1,370.5M822.2,365.1L825.1,370.5L827.8,364.9M856.8,306.5L858.8,367.7M855.8,362.3L858.8,367.7L861.4,362.1M251.6,346.9L248.9,359.9M247.3,354.1L248.9,359.9L252.6,355.2M285.2,346.9L288.3,359.9M284.4,355.3L288.3,359.9L289.7,354.0M318.8,346.9L324.1,366.0M320.0,361.4L324.1,366.0L325.4,359.9M352.5,346.9L356.8,369.6M353.0,364.7L356.8,369.6L358.5,363.6M386.1,346.9L390.4,369.6M386.6,364.7L390.4,369.6L392.1,363.6M419.7,346.9L423.1,373.2M419.6,368.1L423.1,373.2L425.2,367.3M453.3,346.9L456.2,373.2M452.8,368.0L456.2,373.2L458.4,367.4M486.9,346.9L489.8,375.6M486.5,370.4L489.8,375.6L492.1,369.8M520.6,346.9L529.8,376.2M525.4,371.8L529.8,376.2L530.8,370.2M554.2,346.9L562.9,378.0M558.7,373.4L562.9,378.0L564.1,371.9M587.8,346.9L596.5,377.2M592.3,372.6L596.5,377.2L597.7,371.1M621.4,346.9L627.9,379.0M624.1,374.1L627.9,379.0L629.6,373.0M655.0,346.9L657.3,381.9M654.2,376.5L657.3,381.9L659.8,376.2M688.7,346.9L694.1,390.2M690.6,385.1L694.1,390.2L696.2,384.4M722.3,346.9L726.5,387.5M723.1,382.3L726.5,387.5L728.7,381.7M755.9,346.9L761.5,404.4M758.2,399.1L761.5,404.4L763.8,398.6M789.5,346.9L796.8,408.6M793.4,403.4L796.8,408.6L799.0,402.8M823.1,346.9L827.9,404.4M824.7,399.1L827.9,404.4L830.3,398.6M856.8,346.9L860.2,394.5M857.0,389.2L860.2,394.5L862.6,388.8M251.6,387.2L242.2,414.0M241.4,407.9L242.2,414.0L246.7,409.7M285.2,387.2L281.8,404.3M280.1,398.4L281.8,404.3L285.6,399.5M318.8,387.2L324.1,398.3M319.8,394.9L324.1,398.3L324.3,392.8M352.5,387.2L364.1,404.3M358.7,401.3L364.1,404.3L363.3,398.2M386.1,387.2L395.3,410.4M390.6,406.3L395.3,410.4L395.9,404.3M419.7,387.2L424.3,415.2M420.6,410.2L424.3,415.2L426.2,409.3M453.3,387.2L458.1,411.6M454.3,406.7L458.1,411.6L459.8,405.7M486.9,387.2L496.6,415.2M492.2,410.9L496.6,415.2L497.5,409.1M520.6,387.2L532.2,418.8M527.6,414.6L532.2,418.8L532.9,412.7M554.2,387.2L567.2,415.2M562.3,411.4L567.2,415.2L567.4,409.0M587.8,387.2L600.5,415.4M595.7,411.5L600.5,415.4L600.8,409.2M621.4,387.2L633.5,424.1M629.1,419.7L633.5,424.1L634.5,418.0M655.0,387.2L662.9,421.3M659.0,416.6L662.9,421.3L664.4,415.3M688.7,387.2L698.3,425.5M694.2,420.8L698.3,425.5L699.6,419.5M722.3,387.2L732.2,422.7M728.0,418.2L732.2,422.7L733.4,416.7M755.9,387.2L768.6,442.4M764.6,437.7L768.6,442.4L770.1,436.4M789.5,387.2L798.2,442.4M794.6,437.4L798.2,442.4L800.1,436.5M823.1,387.2L832.1,435.4M828.4,430.5L832.1,435.4L833.9,429.5M856.8,387.2L867.2,425.5M863.0,420.9L867.2,425.5L868.4,419.5M251.6,427.6L251.6,447.7M248.8,442.2L251.6,447.7L254.4,442.2M285.2,427.6L271.3,460.0M270.9,453.8L271.3,460.0L276.1,456.0M318.8,427.6L317.7,476.8M315.1,471.2L317.7,476.8L320.7,471.3M352.5,427.6L361.4,463.4M357.3,458.7L361.4,463.4L362.8,457.3M386.1,427.6L390.1,455.5M386.5,450.4L390.1,455.5L392.1,449.6M419.7,427.6L423.5,452.2M419.9,447.1L423.5,452.2L425.4,446.3M453.3,427.6L460.9,449.9M456.5,445.5L460.9,449.9L461.8,443.7M486.9,427.6L498.1,449.9M493.2,446.2L498.1,449.9L498.2,443.7M520.6,427.6L534.0,449.9M528.7,446.6L534.0,449.9L533.5,443.7M554.2,427.6L572.1,449.9M566.5,447.3L572.1,449.9L570.8,443.8M587.8,427.6L600.8,451.6M595.7,448.0L600.8,451.6L600.6,445.4M621.4,427.6L640.6,464.2M635.6,460.6L640.6,464.2L640.5,458.0M655.0,427.6L671.3,462.8M666.5,458.9L671.3,462.8L671.6,456.6M688.7,427.6L703.9,464.2M699.2,460.1L703.9,464.2L704.3,458.0M722.3,427.6L733.6,457.2M729.0,453.0L733.6,457.2L734.2,451.0M755.9,427.6L767.2,469.9M763.1,465.3L767.2,469.9L768.5,463.8M789.5,427.6L803.9,471.3M799.5,466.9L803.9,471.3L804.9,465.1M823.1,427.6L840.6,462.8M835.7,459.1L840.6,462.8L840.7,456.6M856.8,427.6L877.1,451.6M871.4,449.2L877.1,451.6L875.6,445.5M251.6,467.9L251.6,486.0M248.8,480.5L251.6,486.0L254.4,480.5M285.2,467.9L285.2,477.1M283.3,473.4L285.2,477.1L287.1,473.4M318.8,467.9L318.8,476.9M317.0,473.3L318.8,476.9L320.7,473.3M352.5,467.9L347.1,493.8M345.4,487.8L347.1,493.8L350.9,489.0M386.1,467.9L384.5,492.7M382.0,487.0L384.5,492.7L387.6,487.4M419.7,467.9L419.7,488.2M416.9,482.7L419.7,488.2L422.5,482.7M453.3,467.9L462.2,488.2M457.4,484.3L462.2,488.2L462.6,482.0M486.9,467.9L496.3,487.1M491.4,483.4L496.3,487.1L496.4,480.9M520.6,467.9L534.0,487.1M528.5,484.2L534.0,487.1L533.1,481.0M554.2,467.9L567.6,486.0M562.1,483.2L567.6,486.0L566.6,479.9M587.8,467.9L603.8,487.9M598.2,485.4L603.8,487.9L602.6,481.9M621.4,467.9L641.1,497.5M635.7,494.5L641.1,497.5L640.4,491.4M655.0,467.9L674.2,498.9M669.0,495.7L674.2,498.9L673.7,492.7M688.7,467.9L708.1,501.7M702.9,498.3L708.1,501.7L707.8,495.5M722.3,467.9L744.8,504.5M739.5,501.3L744.8,504.5L744.3,498.3M755.9,467.9L775.6,504.5M770.5,501.0L775.6,504.5L775.5,498.3M789.5,467.9L813.7,500.3M808.2,497.6L813.7,500.3L812.7,494.2M823.1,467.9L851.8,490.4M845.8,489.2L851.8,490.4L849.2,484.8M856.8,467.9L886.8,479.2M880.6,479.9L886.8,479.2L882.6,474.6M251.6,508.2L258.3,521.9M253.4,518.2L258.3,521.9L258.4,515.7M285.2,508.2L285.2,516.2M283.6,513.0L285.2,516.2L286.8,513.0M318.8,508.2L309.9,526.4M309.9,520.2L309.9,526.4L314.9,522.6M352.5,508.2L345.3,533.0M344.1,527.0L345.3,533.0L349.5,528.5M386.1,508.2L383.9,529.8M381.7,524.0L383.9,529.8L387.2,524.6M419.7,508.2L424.2,532.0M420.4,527.1L424.2,532.0L425.9,526.0M453.3,508.2L458.7,534.1M454.9,529.3L458.7,534.1L460.3,528.2M486.9,508.2L500.8,536.5M495.9,532.8L500.8,536.5L500.9,530.3M520.6,508.2L531.8,538.6M527.2,534.5L531.8,538.6L532.5,532.5M554.2,508.2L568.7,532.6M563.5,529.4L568.7,532.6L568.3,526.5M587.8,508.2L600.3,530.2M595.1,526.9L600.3,530.2L600.0,524.1M621.4,508.2L642.0,532.8M636.3,530.3L642.0,532.8L640.6,526.7M655.0,508.2L678.4,534.1M672.7,531.9L678.4,534.1L676.8,528.2M688.7,508.2L711.0,530.0M705.1,528.1L711.0,530.0L709.0,524.1M722.3,508.2L744.8,531.4M738.9,529.4L744.8,531.4L742.9,525.5M755.9,508.2L786.9,532.8M780.8,531.5L786.9,532.8L784.3,527.1M789.5,508.2L820.8,526.5M814.7,526.2L820.8,526.5L817.5,521.4M823.1,508.2L858.9,520.0M852.8,521.0L858.9,520.0L854.6,515.7M856.8,508.2L894.8,513.2M888.9,515.3L894.8,513.2L889.7,509.8M251.6,548.6L255.0,558.7M251.6,555.4L255.0,558.7L255.7,554.0M285.2,548.6L285.9,564.2M282.9,558.8L285.9,564.2L288.5,558.6M318.8,548.6L318.1,569.8M315.5,564.2L318.1,569.8L321.1,564.4M352.5,548.6L352.5,572.1M349.7,566.6L352.5,572.1L355.3,566.6M386.1,548.6L386.8,566.5M383.8,561.1L386.8,566.5L389.4,560.9M419.7,548.6L418.1,565.4M415.8,559.7L418.1,565.4L421.4,560.2M453.3,548.6L463.1,565.4M457.9,562.1L463.1,565.4L462.8,559.2M486.9,548.6L497.0,565.4M491.8,562.1L497.0,565.4L496.6,559.2M520.6,548.6L536.7,567.6M531.0,565.2L536.7,567.6L535.2,561.6M554.2,548.6L564.9,573.2M560.1,569.3L564.9,573.2L565.3,567.0M587.8,548.6L599.8,570.1M594.7,566.7L599.8,570.1L599.6,563.9M621.4,548.6L637.7,573.7M632.4,570.6L637.7,573.7L637.1,567.6M655.0,548.6L678.4,570.9M672.5,569.1L678.4,570.9L676.4,565.1M688.7,548.6L711.0,566.6M704.9,565.3L711.0,566.6L708.4,561.0M722.3,548.6L747.7,565.2M741.5,564.5L747.7,565.2L744.6,559.8M755.9,548.6L788.3,562.4M782.1,562.8L788.3,562.4L784.3,557.7M789.5,548.6L829.2,559.6M823.2,560.8L829.2,559.6L824.7,555.4M823.1,548.6L861.7,555.4M855.8,557.2L861.7,555.4L856.8,551.7M856.8,548.6L896.8,550.6M891.1,553.1L896.8,550.6L891.4,547.5M251.6,589.0L258.3,598.4M253.7,596.0L258.3,598.4L257.5,593.2M285.2,589.0L285.2,608.4M282.4,602.9L285.2,608.4L288.0,602.9M318.8,589.0L316.3,619.8M314.0,614.0L316.3,619.8L319.6,614.5M352.5,589.0L353.3,613.6M350.3,608.1L353.3,613.6L355.9,608.0M386.1,589.0L387.1,608.4M384.0,603.0L387.1,608.4L389.6,602.7M419.7,589.0L423.9,603.2M419.7,598.7L423.9,603.2L425.0,597.1M453.3,589.0L457.3,601.0M453.3,597.0L457.3,601.0L458.2,595.3M486.9,589.0L489.8,609.4M486.3,604.3L489.8,609.4L491.8,603.5M520.6,589.0L537.7,615.0M532.3,611.9L537.7,615.0L537.0,608.8M554.2,589.0L568.4,603.2M562.5,601.2L568.4,603.2L566.5,597.3M587.8,589.0L604.3,606.8M598.5,604.6L604.3,606.8L602.6,600.8M621.4,589.0L639.2,611.0M633.6,608.4L639.2,611.0L637.9,604.9M655.0,589.0L676.4,608.2M670.5,606.6L676.4,608.2L674.2,602.4M688.7,589.0L716.0,613.0M710.0,611.4L716.0,613.0L713.7,607.2M722.3,589.0L745.4,603.9M739.2,603.2L745.4,603.9L742.3,598.5M755.9,589.0L781.3,595.5M775.3,596.8L781.3,595.5L776.7,591.4M789.5,589.0L830.6,597.7M824.7,599.3L830.6,597.7L825.8,593.8M823.1,589.0L865.9,592.1M860.3,594.4L865.9,592.1L860.7,588.9M856.8,589.0L898.8,589.0M893.3,591.8L898.8,589.0L893.3,586.2M251.6,629.3L249.9,649.9M247.6,644.2L249.9,649.9L253.1,644.6M285.2,629.3L285.2,652.0M282.4,646.5L285.2,652.0L288.0,646.5M318.8,629.3L318.8,654.1M316.0,648.6L318.8,654.1L321.6,648.6M352.5,629.3L353.7,652.0M350.6,646.7L353.7,652.0L356.2,646.4M386.1,629.3L387.8,647.8M384.5,642.6L387.8,647.8L390.1,642.1M419.7,629.3L423.0,646.8M419.2,641.9L423.0,646.8L424.7,640.9M453.3,629.3L461.4,649.9M456.8,645.8L461.4,649.9L462.0,643.8M486.9,629.3L493.1,641.2M488.2,637.7L493.1,641.2L493.1,635.2M520.6,629.3L530.2,637.0M524.8,635.9L530.2,637.0L527.9,632.0M554.2,629.3L568.8,645.8M563.0,643.5L568.8,645.8L567.2,639.8M587.8,629.3L610.9,646.2M604.8,645.2L610.9,646.2L608.1,640.7M621.4,629.3L643.4,644.8M637.3,643.9L643.4,644.8L640.5,639.3M655.0,629.3L679.8,644.0M673.7,643.6L679.8,644.0L676.5,638.8M688.7,629.3L716.6,644.0M710.4,643.9L716.6,644.0L713.0,639.0M722.3,629.3L747.7,639.2M741.5,639.8L747.7,639.2L743.6,634.6M755.9,629.3L789.7,640.0M783.6,641.0L789.7,640.0L785.3,635.7M789.5,629.3L828.7,637.8M822.8,639.4L828.7,637.8L823.9,633.9M823.1,629.3L864.5,634.9M858.7,636.9L864.5,634.9L859.5,631.4M856.8,629.3L898.8,630.3M893.2,633.0L898.8,630.3L893.3,627.4M251.6,669.6L248.5,685.2M246.8,679.3L248.5,685.2L252.3,680.4M285.2,669.6L284.2,689.0M281.7,683.4L284.2,689.0L287.3,683.7M318.8,669.6L319.4,694.6M316.5,689.2L319.4,694.6L322.1,689.1M352.5,669.6L352.9,691.5M350.0,686.1L352.9,691.5L355.6,686.0M386.1,669.6L389.8,689.0M386.0,684.2L389.8,689.0L391.5,683.1M419.7,669.6L427.2,677.9M422.5,676.2L427.2,677.9L425.9,673.1M453.3,669.6L465.8,666.4M461.5,670.2L465.8,666.4L460.1,665.1M486.9,669.6L499.6,679.0M493.6,678.0L499.6,679.0L496.9,673.5M520.6,669.6L530.2,685.2M524.9,682.0L530.2,685.2L529.7,679.1M554.2,669.6L568.4,686.4M562.7,684.0L568.4,686.4L567.0,680.3M587.8,669.6L601.6,680.4M595.5,679.2L601.6,680.4L599.0,674.8M621.4,669.6L643.9,690.5M638.0,688.9L643.9,690.5L641.8,684.8M655.0,669.6L677.0,693.4M671.2,691.2L677.0,693.4L675.4,687.4M688.7,669.6L711.0,688.2M704.9,686.9L711.0,688.2L708.5,682.6M722.3,669.6L745.4,679.8M739.2,680.1L745.4,679.8L741.5,675.0M755.9,669.6L788.3,681.2M782.2,682.0L788.3,681.2L784.1,676.8M789.5,669.6L827.0,679.2M821.0,680.6L827.0,679.2L822.4,675.2M823.1,669.6L861.7,676.4M855.8,678.3L861.7,676.4L856.8,672.7M856.8,669.6L896.8,670.6M891.2,673.3L896.8,670.6L891.3,667.7M251.6,710.0L249.6,725.0M247.6,719.2L249.6,725.0L253.1,719.9M285.2,710.0L286.2,726.0M283.1,720.7L286.2,726.0L288.7,720.3M318.8,710.0L319.4,730.2M316.5,724.8L319.4,730.2L322.1,724.6M352.5,710.0L352.3,732.3M349.5,726.8L352.3,732.3L355.1,726.8M386.1,710.0L387.8,727.1M384.4,721.9L387.8,727.1L390.0,721.3M419.7,710.0L420.9,722.9M417.8,718.0L420.9,722.9L423.0,717.5M453.3,710.0L467.0,731.2M461.7,728.1L467.0,731.2L466.4,725.1M486.9,710.0L495.4,725.4M490.3,721.9L495.4,725.4L495.2,719.2M520.6,710.0L521.8,719.8M519.3,716.1L521.8,719.8L523.3,715.6M554.2,710.0L565.7,724.0M560.0,721.5L565.7,724.0L564.4,718.0M587.8,710.0L605.3,726.9M599.4,725.1L605.3,726.9L603.3,721.1M621.4,710.0L642.0,733.4M636.3,731.1L642.0,733.4L640.5,727.4M655.0,710.0L675.6,727.8M669.6,726.3L675.6,727.8L673.3,722.1M688.7,710.0L709.6,719.9M703.4,720.1L709.6,719.9L705.8,715.0M722.3,710.0L749.1,723.5M742.9,723.5L749.1,723.5L745.4,718.5M755.9,710.0L786.3,723.5M780.1,723.8L786.3,723.5L782.4,718.7M789.5,710.0L825.0,722.1M818.9,723.0L825.0,722.1L820.7,717.7M823.1,710.0L858.0,717.9M852.1,719.4L858.0,717.9L853.3,714.0M856.8,710.0L891.8,711.0M886.2,713.6L891.8,711.0L886.3,708.0" fill="none" stroke="#000" stroke-width="1" shape-rendering="crispEdges"/>
</g>
<rect x="219" y="50" width="661" height="700" fill="none" stroke="#000" stroke-width="2"/>
<line x1="213" y1="97.5" x2="218" y2="97.5" stroke="#fa3c3c" stroke-width="1"/>
<text transform="translate(146.59,105.80) scale(1.046,1)" font-size="23.5" font-family="'Liberation Serif', serif" stroke="#fff" stroke-width="0.30" fill="#fa3c3c">3</text>
<text transform="translate(160.06,105.80) scale(0.933,1)" font-size="23.5" font-family="'Liberation Serif', serif" stroke="#fff" stroke-width="0.30" fill="#fa3c3c">4</text>
<text transform="translate(172.80,105.80) scale(0.851,1)" font-size="23.5" font-family="'Liberation Serif', serif" stroke="#fff" stroke-width="0.30" fill="#fa3c3c">.</text>
<text transform="translate(178.37,105.80) scale(1.085,1)" font-size="23.5" font-family="'Liberation Serif', serif" stroke="#fff" stroke-width="0.30" fill="#fa3c3c">5</text>
<text transform="translate(192.11,105.80) scale(0.838,1)" font-size="23.5" font-family="'Liberation Serif', serif" stroke="#fff" stroke-width="0.30" fill="#fa3c3c">N</text>
<line x1="213" y1="144.5" x2="218" y2="144.5" stroke="#fa3c3c" stroke-width="1"/>
<text transform="translate(165.99,152.80) scale(1.046,1)" font-size="23.5" font-family="'Liberation Serif', serif" stroke="#fff" stroke-width="0.30" fill="#fa3c3c">3</text>
<text transform="translate(179.46,152.80) scale(0.933,1)" font-size="23.5" font-family="'Liberation Serif', serif" stroke="#fff" stroke-width="0.30" fill="#fa3c3c">4</text>
<text transform="translate(192.11,152.80) scale(0.838,1)" font-size="23.5" font-family="'Liberation Serif', serif" stroke="#fff" stroke-width="0.30" fill="#fa3c3c">N</text>
<line x1="213" y1="191.5" x2="218" y2="191.5" stroke="#fa3c3c" stroke-width="1"/>
<text transform="translate(146.59,199.80) scale(1.046,1)" font-size="23.5" font-family="'Liberation Serif', serif" stroke="#fff" stroke-width="0.30" fill="#fa3c3c">3</text>
<text transform="translate(159.39,199.80) scale(1.046,1)" font-size="23.5" font-family="'Liberation Serif', serif" stroke="#fff" stroke-width="0.30" fill="#fa3c3c">3</text>
<text transform="translate(172.80,199.80) scale(0.851,1)" font-size="23.5" font-family="'Liberation Serif', serif" stroke="#fff" stroke-width="0.30" fill="#fa3c3c">.</text>
<text transform="translate(178.37,199.80) scale(1.085,1)" font-size="23.5" font-family="'Liberation Serif', serif" stroke="#fff" stroke-width="0.30" fill="#fa3c3c">5</text>
<text transform="translate(192.11,199.80) scale(0.838,1)" font-size="23.5" font-family="'Liberation Serif', serif" stroke="#fff" stroke-width="0.30" fill="#fa3c3c">N</text>
<line x1="213" y1="237.5" x2="218" y2="237.5" stroke="#fa3c3c" stroke-width="1"/>
<text transform="translate(165.99,245.80) scale(1.046,1)" font-size="23.5" font-family="'Liberation Serif', serif" stroke="#fff" stroke-width="0.30" fill="#fa3c3c">3</text>
<text transform="translate(178.79,245.80) scale(1.046,1)" font-size="23.5" font-family="'Liberation Serif', serif" stroke="#fff" stroke-width="0.30" fill="#fa3c3c">3</text>
<text transform="translate(192.11,245.80) scale(0.838,1)" font-size="23.5" font-family="'Liberation Serif', serif" stroke="#fff" stroke-width="0.30" fill="#fa3c3c">N</text>
<line x1="213" y1="284.5" x2="218" y2="284.5" stroke="#fa3c3c" stroke-width="1"/>
<text transform="translate(146.59,292.80) scale(1.046,1)" font-size="23.5" font-family="'Liberation Serif', serif" stroke="#fff" stroke-width="0.30" fill="#fa3c3c">3</text>
<text transform="translate(159.35,292.80) scale(1.085,1)" font-size="23.5" font-family="'Liberation Serif', serif" stroke="#fff" stroke-width="0.30" fill="#fa3c3c">2</text>
<text transform="translate(172.80,292.80) scale(0.851,1)" font-size="23.5" font-family="'Liberation Serif', serif" stroke="#fff" stroke-width="0.30" fill="#fa3c3c">.</text>
<text transform="translate(178.37,292.80) scale(1.085,1)" font-size="23.5" font-family="'Liberation Serif', serif" stroke="#fff" stroke-width="0.30" fill="#fa3c3c">5</text>
<text transform="translate(192.11,292.80) scale(0.838,1)" font-size="23.5" font-family="'Liberation Serif', serif" stroke="#fff" stroke-width="0.30" fill="#fa3c3c">N</text>
<line x1="213" y1="331.5" x2="218" y2="331.5" stroke="#fa3c3c" stroke-width="1"/>
<text transform="translate(165.99,339.80) scale(1.046,1)" font-size="23.5" font-family="'Liberation Serif', serif" stroke="#fff" stroke-width="0.30" fill="#fa3c3c">3</text>
<text transform="translate(178.75,339.80) scale(1.085,1)" font-size="23.5" font-family="'Liberation Serif', serif" stroke="#fff" stroke-width="0.30" fill="#fa3c3c">2</text>
<text transform="translate(192.11,339.80) scale(0.838,1)" font-size="23.5" font-family="'Liberation Serif', serif" stroke="#fff" stroke-width="0.30" fill="#fa3c3c">N</text>
<line x1="213" y1="377.5" x2="218" y2="377.5" stroke="#fa3c3c" stroke-width="1"/>
<text transform="translate(148.59,385.80) scale(1.046,1)" font-size="23.5" font-family="'Liberation Serif', serif" stroke="#fff" stroke-width="0.30" fill="#fa3c3c">3</text>
<text x="160.54" y="385.80" font-size="23.5" font-family="'Liberation Serif', serif" stroke="#fff" stroke-width="0.30" fill="#fa3c3c">1</text>
<text transform="translate(172.80,385.80) scale(0.851,1)" font-size="23.5" font-family="'Liberation Serif', serif" stroke="#fff" stroke-width="0.30" fill="#fa3c3c">.</text>
<text transform="translate(178.37,385.80) scale(1.085,1)" font-size="23.5" font-family="'Liberation Serif', serif" stroke="#fff" stroke-width="0.30" fill="#fa3c3c">5</text>
<text transform="translate(192.11,385.80) scale(0.838,1)" font-size="23.5" font-family="'Liberation Serif', serif" stroke="#fff" stroke-width="0.30" fill="#fa3c3c">N</text>
<line x1="213" y1="424.5" x2="218" y2="424.5" stroke="#fa3c3c" stroke-width="1"/>
<text transform="translate(167.99,432.80) scale(1.046,1)" font-size="23.5" font-family="'Liberation Serif', serif" stroke="#fff" stroke-width="0.30" fill="#fa3c3c">3</text>
<text x="179.94" y="432.80" font-size="23.5" font-family="'Liberation Serif', serif" stroke="#fff" stroke-width="0.30" fill="#fa3c3c">1</text>
<text transform="translate(192.11,432.80) scale(0.838,1)" font-size="23.5" font-family="'Liberation Serif', serif" stroke="#fff" stroke-width="0.30" fill="#fa3c3c">N</text>
<line x1="213" y1="471.5" x2="218" y2="471.5" stroke="#fa3c3c" stroke-width="1"/>
<text transform="translate(146.59,479.80) scale(1.046,1)" font-size="23.5" font-family="'Liberation Serif', serif" stroke="#fff" stroke-width="0.30" fill="#fa3c3c">3</text>
<text transform="translate(159.53,479.80) scale(1.033,1)" font-size="23.5" font-family="'Liberation Serif', serif" stroke="#fff" stroke-width="0.30" fill="#fa3c3c">0</text>
<text transform="translate(172.80,479.80) scale(0.851,1)" font-size="23.5" font-family="'Liberation Serif', serif" stroke="#fff" stroke-width="0.30" fill="#fa3c3c">.</text>
<text transform="translate(178.37,479.80) scale(1.085,1)" font-size="23.5" font-family="'Liberation Serif', serif" stroke="#fff" stroke-width="0.30" fill="#fa3c3c">5</text>
<text transform="translate(192.11,479.80) scale(0.838,1)" font-size="23.5" font-family="'Liberation Serif', serif" stroke="#fff" stroke-width="0.30" fill="#fa3c3c">N</text>
<line x1="213" y1="517.5" x2="218" y2="517.5" stroke="#fa3c3c" stroke-width="1"/>
<text transform="translate(165.99,525.80) scale(1.046,1)" font-size="23.5" font-family="'Liberation Serif', serif" stroke="#fff" stroke-width="0.30" fill="#fa3c3c">3</text>
<text transform="translate(178.93,525.80) scale(1.033,1)" font-size="23.5" font-family="'Liberation Serif', serif" stroke="#fff" stroke-width="0.30" fill="#fa3c3c">0</text>
<text transform="translate(192.11,525.80) scale(0.838,1)" font-size="23.5" font-family="'Liberation Serif', serif" stroke="#fff" stroke-width="0.30" fill="#fa3c3c">N</text>
<line x1="213" y1="564.5" x2="218" y2="564.5" stroke="#fa3c3c" stroke-width="1"/>
<text transform="translate(146.55,572.80) scale(1.085,1)" font-size="23.5" font-family="'Liberation Serif', serif" stroke="#fff" stroke-width="0.30" fill="#fa3c3c">2</text>
<text x="159.79" y="572.80" font-size="23.5" font-family="'Liberation Serif', serif" stroke="#fff" stroke-width="0.30" fill="#fa3c3c">9</text>
<text transform="translate(172.80,572.80) scale(0.851,1)" font-size="23.5" font-family="'Liberation Serif', serif" stroke="#fff" stroke-width="0.30" fill="#fa3c3c">.</text>
<text transform="translate(178.37,572.80) scale(1.085,1)" font-size="23.5" font-family="'Liberation Serif', serif" stroke="#fff" stroke-width="0.30" fill="#fa3c3c">5</text>
<text transform="translate(192.11,572.80) scale(0.838,1)" font-size="23.5" font-family="'Liberation Serif', serif" stroke="#fff" stroke-width="0.30" fill="#fa3c3c">N</text>
<line x1="213" y1="611.5" x2="218" y2="611.5" stroke="#fa3c3c" stroke-width="1"/>
<text transform="translate(165.95,619.80) scale(1.085,1)" font-size="23.5" font-family="'Liberation Serif', serif" stroke="#fff" stroke-width="0.30" fill="#fa3c3c">2</text>
<text x="179.19" y="619.80" font-size="23.5" font-family="'Liberation Serif', serif" stroke="#fff" stroke-width="0.30" fill="#fa3c3c">9</text>
<text transform="translate(192.11,619.80) scale(0.838,1)" font-size="23.5" font-family="'Liberation Serif', serif" stroke="#fff" stroke-width="0.30" fill="#fa3c3c">N</text>
<line x1="213" y1="657.5" x2="218" y2="657.5" stroke="#fa3c3c" stroke-width="1"/>
<text transform="translate(146.55,665.80) scale(1.085,1)" font-size="23.5" font-family="'Liberation Serif', serif" stroke="#fff" stroke-width="0.30" fill="#fa3c3c">2</text>
<text transform="translate(159.53,665.80) scale(1.033,1)" font-size="23.5" font-family="'Liberation Serif', serif" stroke="#fff" stroke-width="0.30" fill="#fa3c3c">8</text>
<text transform="translate(172.80,665.80) scale(0.851,1)" font-size="23.5" font-family="'Liberation Serif', serif" stroke="#fff" stroke-width="0.30" fill="#fa3c3c">.</text>
<text transform="translate(178.37,665.80) scale(1.085,1)" font-size="23.5" font-family="'Liberation Serif', serif" stroke="#fff" stroke-width="0.30" fill="#fa3c3c">5</text>
<text transform="translate(192.11,665.80) scale(0.838,1)" font-size="23.5" font-family="'Liberation Serif', serif" stroke="#fff" stroke-width="0.30" fill="#fa3c3c">N</text>
<line x1="213" y1="704.5" x2="218" y2="704.5" stroke="#fa3c3c" stroke-width="1"/>
<text transform="translate(165.95,712.80) scale(1.085,1)" font-size="23.5" font-family="'Liberation Serif', serif" stroke="#fff" stroke-width="0.30" fill="#fa3c3c">2</text>
<text transform="translate(178.93,712.80) scale(1.033,1)" font-size="23.5" font-family="'Liberation Serif', serif" stroke="#fff" stroke-width="0.30" fill="#fa3c3c">8</text>
<text transform="translate(192.11,712.80) scale(0.838,1)" font-size="23.5" font-family="'Liberation Serif', serif" stroke="#fff" stroke-width="0.30" fill="#fa3c3c">N</text>
<line x1="213" y1="751.5" x2="218" y2="751.5" stroke="#fa3c3c" stroke-width="1"/>
<text transform="translate(146.55,759.80) scale(1.085,1)" font-size="23.5" font-family="'Liberation Serif', serif" stroke="#fff" stroke-width="0.30" fill="#fa3c3c">2</text>
<text transform="translate(158.86,759.80) scale(1.072,1)" font-size="23.5" font-family="'Liberation Serif', serif" stroke="#fff" stroke-width="0.30" fill="#fa3c3c">7</text>
<text transform="translate(172.80,759.80) scale(0.851,1)" font-size="23.5" font-family="'Liberation Serif', serif" stroke="#fff" stroke-width="0.30" fill="#fa3c3c">.</text>
<text transform="translate(178.37,759.80) scale(1.085,1)" font-size="23.5" font-family="'Liberation Serif', serif" stroke="#fff" stroke-width="0.30" fill="#fa3c3c">5</text>
<text transform="translate(192.11,759.80) scale(0.838,1)" font-size="23.5" font-family="'Liberation Serif', serif" stroke="#fff" stroke-width="0.30" fill="#fa3c3c">N</text>
<line x1="219.5" y1="751" x2="219.5" y2="758" stroke="#fa3c3c" stroke-width="1"/>
<text x="195.39" y="777.60" font-size="23.5" font-family="'Liberation Serif', serif" stroke="#fff" stroke-width="0.30" fill="#fa3c3c">1</text>
<text x="206.19" y="777.60" font-size="23.5" font-family="'Liberation Serif', serif" stroke="#fff" stroke-width="0.30" fill="#fa3c3c">1</text>
<text transform="translate(217.42,777.60) scale(1.085,1)" font-size="23.5" font-family="'Liberation Serif', serif" stroke="#fff" stroke-width="0.30" fill="#fa3c3c">5</text>
<text transform="translate(231.26,777.60) scale(0.699,1)" font-size="23.5" font-family="'Liberation Serif', serif" stroke="#fff" stroke-width="0.30" fill="#fa3c3c">E</text>
<line x1="297.5" y1="751" x2="297.5" y2="758" stroke="#fa3c3c" stroke-width="1"/>
<text x="273.39" y="777.60" font-size="23.5" font-family="'Liberation Serif', serif" stroke="#fff" stroke-width="0.30" fill="#fa3c3c">1</text>
<text x="284.19" y="777.60" font-size="23.5" font-family="'Liberation Serif', serif" stroke="#fff" stroke-width="0.30" fill="#fa3c3c">1</text>
<text x="296.00" y="777.60" font-size="23.5" font-family="'Liberation Serif', serif" stroke="#fff" stroke-width="0.30" fill="#fa3c3c">6</text>
<text transform="translate(309.26,777.60) scale(0.699,1)" font-size="23.5" font-family="'Liberation Serif', serif" stroke="#fff" stroke-width="0.30" fill="#fa3c3c">E</text>
<line x1="375.5" y1="751" x2="375.5" y2="758" stroke="#fa3c3c" stroke-width="1"/>
<text x="351.39" y="777.60" font-size="23.5" font-family="'Liberation Serif', serif" stroke="#fff" stroke-width="0.30" fill="#fa3c3c">1</text>
<text x="362.19" y="777.60" font-size="23.5" font-family="'Liberation Serif', serif" stroke="#fff" stroke-width="0.30" fill="#fa3c3c">1</text>
<text transform="translate(373.31,777.60) scale(1.072,1)" font-size="23.5" font-family="'Liberation Serif', serif" stroke="#fff" stroke-width="0.30" fill="#fa3c3c">7</text>
<text transform="translate(387.26,777.60) scale(0.699,1)" font-size="23.5" font-family="'Liberation Serif', serif" stroke="#fff" stroke-width="0.30" fill="#fa3c3c">E</text>
<line x1="452.5" y1="751" x2="452.5" y2="758" stroke="#fa3c3c" stroke-width="1"/>
<text x="428.39" y="777.60" font-size="23.5" font-family="'Liberation Serif', serif" stroke="#fff" stroke-width="0.30" fill="#fa3c3c">1</text>
<text x="439.19" y="777.60" font-size="23.5" font-family="'Liberation Serif', serif" stroke="#fff" stroke-width="0.30" fill="#fa3c3c">1</text>
<text transform="translate(450.98,777.60) scale(1.033,1)" font-size="23.5" font-family="'Liberation Serif', serif" stroke="#fff" stroke-width="0.30" fill="#fa3c3c">8</text>
<text transform="translate(464.26,777.60) scale(0.699,1)" font-size="23.5" font-family="'Liberation Serif', serif" stroke="#fff" stroke-width="0.30" fill="#fa3c3c">E</text>
<line x1="530.5" y1="751" x2="530.5" y2="758" stroke="#fa3c3c" stroke-width="1"/>
<text x="506.39" y="777.60" font-size="23.5" font-family="'Liberation Serif', serif" stroke="#fff" stroke-width="0.30" fill="#fa3c3c">1</text>
<text x="517.19" y="777.60" font-size="23.5" font-family="'Liberation Serif', serif" stroke="#fff" stroke-width="0.30" fill="#fa3c3c">1</text>
<text x="529.24" y="777.60" font-size="23.5" font-family="'Liberation Serif', serif" stroke="#fff" stroke-width="0.30" fill="#fa3c3c">9</text>
<text transform="translate(542.26,777.60) scale(0.699,1)" font-size="23.5" font-family="'Liberation Serif', serif" stroke="#fff" stroke-width="0.30" fill="#fa3c3c">E</text>
<line x1="608.5" y1="751" x2="608.5" y2="758" stroke="#fa3c3c" stroke-width="1"/>
<text x="583.39" y="777.60" font-size="23.5" font-family="'Liberation Serif', serif" stroke="#fff" stroke-width="0.30" fill="#fa3c3c">1</text>
<text transform="translate(595.00,777.60) scale(1.085,1)" font-size="23.5" font-family="'Liberation Serif', serif" stroke="#fff" stroke-width="0.30" fill="#fa3c3c">2</text>
<text transform="translate(607.98,777.60) scale(1.033,1)" font-size="23.5" font-family="'Liberation Serif', serif" stroke="#fff" stroke-width="0.30" fill="#fa3c3c">0</text>
<text transform="translate(621.26,777.60) scale(0.699,1)" font-size="23.5" font-family="'Liberation Serif', serif" stroke="#fff" stroke-width="0.30" fill="#fa3c3c">E</text>
<line x1="686.5" y1="751" x2="686.5" y2="758" stroke="#fa3c3c" stroke-width="1"/>
<text x="662.39" y="777.60" font-size="23.5" font-family="'Liberation Serif', serif" stroke="#fff" stroke-width="0.30" fill="#fa3c3c">1</text>
<text transform="translate(674.00,777.60) scale(1.085,1)" font-size="23.5" font-family="'Liberation Serif', serif" stroke="#fff" stroke-width="0.30" fill="#fa3c3c">2</text>
<text x="685.99" y="777.60" font-size="23.5" font-family="'Liberation Serif', serif" stroke="#fff" stroke-width="0.30" fill="#fa3c3c">1</text>
<text transform="translate(698.26,777.60) scale(0.699,1)" font-size="23.5" font-family="'Liberation Serif', serif" stroke="#fff" stroke-width="0.30" fill="#fa3c3c">E</text>
<line x1="763.5" y1="751" x2="763.5" y2="758" stroke="#fa3c3c" stroke-width="1"/>
<text x="738.39" y="777.60" font-size="23.5" font-family="'Liberation Serif', serif" stroke="#fff" stroke-width="0.30" fill="#fa3c3c">1</text>
<text transform="translate(750.00,777.60) scale(1.085,1)" font-size="23.5" font-family="'Liberation Serif', serif" stroke="#fff" stroke-width="0.30" fill="#fa3c3c">2</text>
<text transform="translate(762.80,777.60) scale(1.085,1)" font-size="23.5" font-family="'Liberation Serif', serif" stroke="#fff" stroke-width="0.30" fill="#fa3c3c">2</text>
<text transform="translate(776.26,777.60) scale(0.699,1)" font-size="23.5" font-family="'Liberation Serif', serif" stroke="#fff" stroke-width="0.30" fill="#fa3c3c">E</text>
<line x1="841.5" y1="751" x2="841.5" y2="758" stroke="#fa3c3c" stroke-width="1"/>
<text x="816.39" y="777.60" font-size="23.5" font-family="'Liberation Serif', serif" stroke="#fff" stroke-width="0.30" fill="#fa3c3c">1</text>
<text transform="translate(828.00,777.60) scale(1.085,1)" font-size="23.5" font-family="'Liberation Serif', serif" stroke="#fff" stroke-width="0.30" fill="#fa3c3c">2</text>
<text transform="translate(840.84,777.60) scale(1.046,1)" font-size="23.5" font-family="'Liberation Serif', serif" stroke="#fff" stroke-width="0.30" fill="#fa3c3c">3</text>
<text transform="translate(854.26,777.60) scale(0.699,1)" font-size="23.5" font-family="'Liberation Serif', serif" stroke="#fff" stroke-width="0.30" fill="#fa3c3c">E</text>
<text transform="translate(200.50,33.60) scale(1.357,1)" font-size="24.5" font-family="'Liberation Serif', serif" stroke="#fff" stroke-width="0.45" fill="#000">2</text>
<text transform="translate(214.99,33.60) scale(1.234,1)" font-size="24.5" font-family="'Liberation Serif', serif" stroke="#fff" stroke-width="0.45" fill="#000">0</text>
<text transform="translate(228.37,33.60) scale(1.296,1)" font-size="24.5" font-family="'Liberation Serif', serif" stroke="#fff" stroke-width="0.45" fill="#000">2</text>
<text transform="translate(242.55,33.60) scale(1.115,1)" font-size="24.5" font-family="'Liberation Serif', serif" stroke="#fff" stroke-width="0.45" fill="#000">4</text>
<text x="257.64" y="33.30" font-size="24.8" font-family="'Liberation Sans', 'Noto Sans CJK SC', sans-serif" font-weight="300" fill="#000">年</text>
<text transform="translate(281.35,33.60) scale(1.035,1)" font-size="24.5" font-family="'Liberation Serif', serif" stroke="#fff" stroke-width="0.45" fill="#000">1</text>
<text transform="translate(294.02,33.60) scale(1.046,1)" font-size="24.5" font-family="'Liberation Serif', serif" stroke="#fff" stroke-width="0.45" fill="#000">1</text>
<text transform="translate(310.82,33.30) scale(0.900,1)" font-size="24.8" font-family="'Liberation Sans', 'Noto Sans CJK SC', sans-serif" font-weight="300" fill="#000">月</text>
<text transform="translate(335.89,33.60) scale(1.234,1)" font-size="24.5" font-family="'Liberation Serif', serif" stroke="#fff" stroke-width="0.45" fill="#000">0</text>
<text transform="translate(349.26,33.60) scale(1.306,1)" font-size="24.5" font-family="'Liberation Serif', serif" stroke="#fff" stroke-width="0.45" fill="#000">2</text>
<text transform="translate(364.17,33.30) scale(0.813,1)" font-size="24.8" font-family="'Liberation Sans', 'Noto Sans CJK SC', sans-serif" font-weight="300" fill="#000">日</text>
<text transform="translate(387.20,33.60) scale(0.656,1)" font-size="24.5" font-family="'Liberation Serif', serif" stroke="#fff" stroke-width="0.45" fill="#000">W</text>
<text transform="translate(403.50,33.60) scale(0.816,1)" font-size="24.5" font-family="'Liberation Serif', serif" stroke="#fff" stroke-width="0.45" fill="#000">R</text>
<text x="417.87" y="33.60" font-size="24.5" font-family="'Liberation Serif', serif" stroke="#fff" stroke-width="0.45" fill="#000">F</text>
<text transform="translate(432.30,36.80) scale(1.283,1)" font-size="36" font-family="'Liberation Serif', serif" stroke="#fff" stroke-width="0.45" fill="#000">/</text>
<text transform="translate(446.54,33.60) scale(1.186,1)" font-size="24.5" font-family="'Liberation Serif', serif" stroke="#fff" stroke-width="0.45" fill="#000">c</text>
<text transform="translate(460.04,33.60) scale(0.942,1)" font-size="24.5" font-family="'Liberation Serif', serif" stroke="#fff" stroke-width="0.45" fill="#000">m</text>
<text transform="translate(478.53,33.60) scale(1.137,1)" font-size="24.5" font-family="'Liberation Serif', serif" stroke="#fff" stroke-width="0.45" fill="#000">a</text>
<text transform="translate(492.13,33.60) scale(1.247,1)" font-size="24.5" font-family="'Liberation Serif', serif" stroke="#fff" stroke-width="0.45" fill="#000">q</text>
<text transform="translate(507.64,33.30) scale(0.965,1)" font-size="24.8" font-family="'Liberation Sans', 'Noto Sans CJK SC', sans-serif" font-weight="300" fill="#000">模</text>
<text transform="translate(532.68,33.30) scale(1.043,1)" font-size="24.8" font-family="'Liberation Sans', 'Noto Sans CJK SC', sans-serif" font-weight="300" fill="#000">式</text>
<text transform="translate(560.34,33.60) scale(0.943,1)" font-size="24.5" font-family="'Liberation Serif', serif" stroke="#fff" stroke-width="0.45" fill="#000">1</text>
<text transform="translate(572.77,33.60) scale(1.204,1)" font-size="24.5" font-family="'Liberation Serif', serif" stroke="#fff" stroke-width="0.45" fill="#000">2</text>
<text transform="translate(588.07,33.60) scale(1.088,1)" font-size="24.5" font-family="'Liberation Serif', serif" stroke="#fff" stroke-width="0.45" fill="#000">k</text>
<text transform="translate(602.64,33.60) scale(1.145,1)" font-size="24.5" font-family="'Liberation Serif', serif" stroke="#fff" stroke-width="0.45" fill="#000">m</text>
<text transform="translate(625.86,33.30) scale(0.846,1)" font-size="24.8" font-family="'Liberation Sans', 'Noto Sans CJK SC', sans-serif" font-weight="300" fill="#000">预</text>
<text transform="translate(649.70,33.30) scale(0.916,1)" font-size="24.8" font-family="'Liberation Sans', 'Noto Sans CJK SC', sans-serif" font-weight="300" fill="#000">报</text>
<text x="672.09" y="33.30" font-size="24.8" font-family="'Liberation Sans', 'Noto Sans CJK SC', sans-serif" font-weight="300" fill="#000">产</text>
<text transform="translate(696.63,33.30) scale(0.884,1)" font-size="24.8" font-family="'Liberation Sans', 'Noto Sans CJK SC', sans-serif" font-weight="300" fill="#000">品</text>
<text transform="translate(719.17,33.60) scale(1.597,1)" font-size="24.5" font-family="'Liberation Serif', serif" stroke="#fff" stroke-width="0.45" fill="#000">:</text>
<text transform="translate(731.24,33.60) scale(0.943,1)" font-size="24.5" font-family="'Liberation Serif', serif" stroke="#fff" stroke-width="0.45" fill="#000">1</text>
<text transform="translate(745.14,33.60) scale(0.943,1)" font-size="24.5" font-family="'Liberation Serif', serif" stroke="#fff" stroke-width="0.45" fill="#000">1</text>
<text transform="translate(760.19,33.30) scale(0.937,1)" font-size="24.8" font-family="'Liberation Sans', 'Noto Sans CJK SC', sans-serif" font-weight="300" fill="#000">月</text>
<text transform="translate(785.31,33.60) scale(1.108,1)" font-size="24.5" font-family="'Liberation Serif', serif" stroke="#fff" stroke-width="0.45" fill="#000">0</text>
<text transform="translate(798.22,33.60) scale(1.163,1)" font-size="24.5" font-family="'Liberation Serif', serif" stroke="#fff" stroke-width="0.45" fill="#000">2</text>
<text transform="translate(815.39,33.30) scale(0.787,1)" font-size="24.8" font-family="'Liberation Sans', 'Noto Sans CJK SC', sans-serif" font-weight="300" fill="#000">日</text>
<text transform="translate(849.70,33.70) scale(1.347,1)" font-size="24.0" font-family="'Liberation Serif', serif" stroke="#fff" stroke-width="0.30" fill="#fa3c3c">S</text>
<text transform="translate(867.33,33.70) scale(0.905,1)" font-size="24.0" font-family="'Liberation Serif', serif" stroke="#fff" stroke-width="0.30" fill="#fa3c3c">O</text>
<text transform="translate(883.03,33.70) scale(1.365,1)" font-size="24.0" font-family="'Liberation Serif', serif" stroke="#fff" stroke-width="0.30" fill="#fa3c3c">2</text>
<rect x="950" y="699.42" width="40" height="22.88" fill="#ffffff" stroke="#000" stroke-width="2"/>
<rect x="950" y="676.54" width="40" height="22.88" fill="#d7eefa" stroke="#000" stroke-width="2"/>
<rect x="950" y="653.66" width="40" height="22.88" fill="#a3dbf4" stroke="#000" stroke-width="2"/>
<rect x="950" y="630.78" width="40" height="22.88" fill="#63a9dc" stroke="#000" stroke-width="2"/>
<rect x="950" y="607.90" width="40" height="22.88" fill="#4689c0" stroke="#000" stroke-width="2"/>
<rect x="950" y="585.02" width="40" height="22.88" fill="#e0e8c2" stroke="#000" stroke-width="2"/>
<rect x="950" y="562.14" width="40" height="22.88" fill="#c3d484" stroke="#000" stroke-width="2"/>
<rect x="950" y="539.26" width="40" height="22.88" fill="#bfdc7c" stroke="#000" stroke-width="2"/>
<rect x="950" y="516.38" width="40" height="22.88" fill="#92c852" stroke="#000" stroke-width="2"/>
<rect x="950" y="493.50" width="40" height="22.88" fill="#6aa83b" stroke="#000" stroke-width="2"/>
<rect x="950" y="470.62" width="40" height="22.88" fill="#f2f266" stroke="#000" stroke-width="2"/>
<rect x="950" y="447.74" width="40" height="22.88" fill="#f2e062" stroke="#000" stroke-width="2"/>
<rect x="950" y="424.86" width="40" height="22.88" fill="#ffea00" stroke="#000" stroke-width="2"/>
<rect x="950" y="401.98" width="40" height="22.88" fill="#ffea00" stroke="#000" stroke-width="2"/>
<rect x="950" y="379.10" width="40" height="22.88" fill="#f5ba52" stroke="#000" stroke-width="2"/>
<rect x="950" y="356.22" width="40" height="22.88" fill="#f8ad2c" stroke="#000" stroke-width="2"/>
<rect x="950" y="333.34" width="40" height="22.88" fill="#ff8c00" stroke="#000" stroke-width="2"/>
<rect x="950" y="310.46" width="40" height="22.88" fill="#ec5e2e" stroke="#000" stroke-width="2"/>
<rect x="950" y="287.58" width="40" height="22.88" fill="#ff6a6a" stroke="#000" stroke-width="2"/>
<rect x="950" y="264.70" width="40" height="22.88" fill="#f72f55" stroke="#000" stroke-width="2"/>
<rect x="950" y="241.82" width="40" height="22.88" fill="#f50049" stroke="#000" stroke-width="2"/>
<rect x="950" y="218.94" width="40" height="22.88" fill="#ff0000" stroke="#000" stroke-width="2"/>
<rect x="950" y="196.06" width="40" height="22.88" fill="#c8167c" stroke="#000" stroke-width="2"/>
<rect x="950" y="173.18" width="40" height="22.88" fill="#aa2f5c" stroke="#000" stroke-width="2"/>
<rect x="950" y="150.30" width="40" height="22.88" fill="#9632c8" stroke="#000" stroke-width="2"/>
<rect x="950" y="127.42" width="40" height="22.88" fill="#8a2be2" stroke="#000" stroke-width="2"/>
<text transform="translate(996.15,708.22) scale(1.146,1)" font-size="24" font-family="'Liberation Serif', serif" stroke="#fff" stroke-width="0.45" fill="#000">5</text>
<text transform="translate(995.84,662.46) scale(0.962,1)" font-size="24" font-family="'Liberation Serif', serif" stroke="#fff" stroke-width="0.45" fill="#000">1</text>
<text transform="translate(1006.65,662.46) scale(1.146,1)" font-size="24" font-family="'Liberation Serif', serif" stroke="#fff" stroke-width="0.45" fill="#000">5</text>
<text transform="translate(996.56,616.70) scale(1.146,1)" font-size="24" font-family="'Liberation Serif', serif" stroke="#fff" stroke-width="0.45" fill="#000">2</text>
<text transform="translate(1009.45,616.70) scale(1.146,1)" font-size="24" font-family="'Liberation Serif', serif" stroke="#fff" stroke-width="0.45" fill="#000">5</text>
<text transform="translate(996.61,570.94) scale(1.104,1)" font-size="24" font-family="'Liberation Serif', serif" stroke="#fff" stroke-width="0.45" fill="#000">3</text>
<text transform="translate(1009.45,570.94) scale(1.146,1)" font-size="24" font-family="'Liberation Serif', serif" stroke="#fff" stroke-width="0.45" fill="#000">5</text>
<text x="997.33" y="525.18" font-size="24" font-family="'Liberation Serif', serif" stroke="#fff" stroke-width="0.45" fill="#000">4</text>
<text transform="translate(1009.45,525.18) scale(1.146,1)" font-size="24" font-family="'Liberation Serif', serif" stroke="#fff" stroke-width="0.45" fill="#000">5</text>
<text transform="translate(996.03,479.42) scale(1.132,1)" font-size="24" font-family="'Liberation Serif', serif" stroke="#fff" stroke-width="0.45" fill="#000">7</text>
<text transform="translate(1009.45,479.42) scale(1.146,1)" font-size="24" font-family="'Liberation Serif', serif" stroke="#fff" stroke-width="0.45" fill="#000">5</text>
<text transform="translate(995.84,433.66) scale(0.962,1)" font-size="24" font-family="'Liberation Serif', serif" stroke="#fff" stroke-width="0.45" fill="#000">1</text>
<text transform="translate(1007.06,433.66) scale(1.146,1)" font-size="24" font-family="'Liberation Serif', serif" stroke="#fff" stroke-width="0.45" fill="#000">2</text>
<text transform="translate(1019.95,433.66) scale(1.146,1)" font-size="24" font-family="'Liberation Serif', serif" stroke="#fff" stroke-width="0.45" fill="#000">5</text>
<text transform="translate(996.56,387.90) scale(1.146,1)" font-size="24" font-family="'Liberation Serif', serif" stroke="#fff" stroke-width="0.45" fill="#000">2</text>
<text transform="translate(1009.91,387.90) scale(1.104,1)" font-size="24" font-family="'Liberation Serif', serif" stroke="#fff" stroke-width="0.45" fill="#000">3</text>
<text transform="translate(1022.44,387.90) scale(0.962,1)" font-size="24" font-family="'Liberation Serif', serif" stroke="#fff" stroke-width="0.45" fill="#000">1</text>
<text transform="translate(996.61,342.14) scale(1.104,1)" font-size="24" font-family="'Liberation Serif', serif" stroke="#fff" stroke-width="0.45" fill="#000">3</text>
<text transform="translate(1010.33,342.14) scale(1.066,1)" font-size="24" font-family="'Liberation Serif', serif" stroke="#fff" stroke-width="0.45" fill="#000">9</text>
<text x="1023.93" y="342.14" font-size="24" font-family="'Liberation Serif', serif" stroke="#fff" stroke-width="0.45" fill="#000">4</text>
<text transform="translate(996.15,296.38) scale(1.146,1)" font-size="24" font-family="'Liberation Serif', serif" stroke="#fff" stroke-width="0.45" fill="#000">5</text>
<text transform="translate(1009.45,296.38) scale(1.146,1)" font-size="24" font-family="'Liberation Serif', serif" stroke="#fff" stroke-width="0.45" fill="#000">5</text>
<text transform="translate(1023.38,296.38) scale(1.066,1)" font-size="24" font-family="'Liberation Serif', serif" stroke="#fff" stroke-width="0.45" fill="#000">6</text>
<text transform="translate(996.03,250.62) scale(1.132,1)" font-size="24" font-family="'Liberation Serif', serif" stroke="#fff" stroke-width="0.45" fill="#000">7</text>
<text transform="translate(1009.14,250.62) scale(0.962,1)" font-size="24" font-family="'Liberation Serif', serif" stroke="#fff" stroke-width="0.45" fill="#000">1</text>
<text transform="translate(1020.83,250.62) scale(1.066,1)" font-size="24" font-family="'Liberation Serif', serif" stroke="#fff" stroke-width="0.45" fill="#000">9</text>
<text transform="translate(995.84,204.86) scale(0.962,1)" font-size="24" font-family="'Liberation Serif', serif" stroke="#fff" stroke-width="0.45" fill="#000">1</text>
<text transform="translate(1007.25,204.86) scale(1.091,1)" font-size="24" font-family="'Liberation Serif', serif" stroke="#fff" stroke-width="0.45" fill="#000">0</text>
<text transform="translate(1020.55,204.86) scale(1.091,1)" font-size="24" font-family="'Liberation Serif', serif" stroke="#fff" stroke-width="0.45" fill="#000">0</text>
<text transform="translate(1033.85,204.86) scale(1.091,1)" font-size="24" font-family="'Liberation Serif', serif" stroke="#fff" stroke-width="0.45" fill="#000">0</text>
<text transform="translate(995.84,159.10) scale(0.962,1)" font-size="24" font-family="'Liberation Serif', serif" stroke="#fff" stroke-width="0.45" fill="#000">1</text>
<text x="1007.83" y="159.10" font-size="24" font-family="'Liberation Serif', serif" stroke="#fff" stroke-width="0.45" fill="#000">4</text>
<text transform="translate(1020.55,159.10) scale(1.091,1)" font-size="24" font-family="'Liberation Serif', serif" stroke="#fff" stroke-width="0.45" fill="#000">0</text>
<text transform="translate(1033.85,159.10) scale(1.091,1)" font-size="24" font-family="'Liberation Serif', serif" stroke="#fff" stroke-width="0.45" fill="#000">0</text>
<text transform="translate(940.44,108.00) scale(1.256,1)" font-size="20.6" font-family="'Liberation Serif', serif" stroke="#fff" stroke-width="0.45" fill="#000">(</text>
<text transform="translate(950.55,108.00) scale(1.126,1)" font-size="20.6" font-family="'Liberation Serif', serif" stroke="#fff" stroke-width="0.45" fill="#000">u</text>
<text transform="translate(963.54,108.00) scale(1.038,1)" font-size="20.6" font-family="'Liberation Serif', serif" stroke="#fff" stroke-width="0.45" fill="#000">g</text>
<text transform="translate(991.38,108.00) scale(1.030,1)" font-size="20.6" font-family="'Liberation Serif', serif" stroke="#fff" stroke-width="0.45" fill="#000">m</text>
<text transform="translate(1012.04,108.00) scale(1.146,1)" font-size="20.6" font-family="'Liberation Serif', serif" stroke="#fff" stroke-width="0.45" fill="#000">3</text>
<text x="1025.58" y="108.00" font-size="20.6" font-family="'Liberation Serif', serif" stroke="#fff" stroke-width="0.45" fill="#000">)</text>
<text transform="translate(977.10,112.60) scale(1.364,1)" font-size="32" font-family="'Liberation Serif', serif" stroke="#fff" stroke-width="0.45" fill="#000">/</text>
<path d="M955,750.5L1006,750.5M992.3,743.2L1006,750.5L992.3,758.6" fill="none" stroke="#000" stroke-width="1"/>
<text transform="translate(942.07,777.70) scale(0.879,1)" font-size="20.5" font-family="'Liberation Serif', serif" stroke="#fff" stroke-width="0.45" fill="#000">1</text>
<text transform="translate(953.55,777.70) scale(1.161,1)" font-size="20.5" font-family="'Liberation Serif', serif" stroke="#fff" stroke-width="0.45" fill="#000">0</text>
<text transform="translate(978.60,777.70) scale(1.218,1)" font-size="20.5" font-family="'Liberation Serif', serif" stroke="#fff" stroke-width="0.45" fill="#000">m</text>
<text transform="translate(1013.96,777.70) scale(1.270,1)" font-size="20.5" font-family="'Liberation Serif', serif" stroke="#fff" stroke-width="0.45" fill="#000">s</text>
<text transform="translate(1000.00,782.40) scale(1.341,1)" font-size="32" font-family="'Liberation Serif', serif" stroke="#fff" stroke-width="0.45" fill="#000">/</text>
<text transform="translate(359.42,829.50) scale(0.973,1)" font-size="20" font-family="'Liberation Sans', 'Noto Sans CJK SC', sans-serif" font-weight="300" fill="#000">版</text>
<text transform="translate(379.02,829.50) scale(0.957,1)" font-size="20" font-family="'Liberation Sans', 'Noto Sans CJK SC', sans-serif" font-weight="300" fill="#000">权</text>
<text transform="translate(399.83,829.50) scale(0.956,1)" font-size="20" font-family="'Liberation Sans', 'Noto Sans CJK SC', sans-serif" font-weight="300" fill="#000">所</text>
<text x="418.48" y="829.50" font-size="20" font-family="'Liberation Sans', 'Noto Sans CJK SC', sans-serif" font-weight="300" fill="#000">有</text>
<text transform="translate(438.91,829.50) scale(1.304,1)" font-size="20" font-family="'Liberation Serif', serif" stroke="#fff" stroke-width="0.45" fill="#000">:</text>
<text transform="translate(452.91,829.50) scale(0.909,1)" font-size="20" font-family="'Liberation Sans', 'Noto Sans CJK SC', sans-serif" font-weight="300" fill="#000">南</text>
<text transform="translate(471.90,829.50) scale(0.914,1)" font-size="20" font-family="'Liberation Sans', 'Noto Sans CJK SC', sans-serif" font-weight="300" fill="#000">京</text>
<text transform="translate(491.42,829.50) scale(0.978,1)" font-size="20" font-family="'Liberation Sans', 'Noto Sans CJK SC', sans-serif" font-weight="300" fill="#000">大</text>
<text transform="translate(510.17,829.50) scale(0.949,1)" font-size="20" font-family="'Liberation Sans', 'Noto Sans CJK SC', sans-serif" font-weight="300" fill="#000">学</text>
<text transform="translate(544.91,829.50) scale(0.909,1)" font-size="20" font-family="'Liberation Sans', 'Noto Sans CJK SC', sans-serif" font-weight="300" fill="#000">南</text>
<text transform="translate(564.97,829.50) scale(0.857,1)" font-size="20" font-family="'Liberation Sans', 'Noto Sans CJK SC', sans-serif" font-weight="300" fill="#000">京</text>
<text transform="translate(585.36,829.50) scale(0.920,1)" font-size="20" font-family="'Liberation Sans', 'Noto Sans CJK SC', sans-serif" font-weight="300" fill="#000">创</text>
<text transform="translate(605.21,829.50) scale(0.879,1)" font-size="20" font-family="'Liberation Sans', 'Noto Sans CJK SC', sans-serif" font-weight="300" fill="#000">蓝</text>
<text transform="translate(624.39,829.50) scale(0.865,1)" font-size="20" font-family="'Liberation Sans', 'Noto Sans CJK SC', sans-serif" font-weight="300" fill="#000">科</text>
<text x="644.11" y="829.50" font-size="20" font-family="'Liberation Sans', 'Noto Sans CJK SC', sans-serif" font-weight="300" fill="#000">技</text>
<text transform="translate(664.04,829.50) scale(0.960,1)" font-size="20" font-family="'Liberation Sans', 'Noto Sans CJK SC', sans-serif" font-weight="300" fill="#000">有</text>
<text transform="translate(683.13,829.50) scale(0.936,1)" font-size="20" font-family="'Liberation Sans', 'Noto Sans CJK SC', sans-serif" font-weight="300" fill="#000">限</text>
<text transform="translate(703.87,829.50) scale(0.944,1)" font-size="20" font-family="'Liberation Sans', 'Noto Sans CJK SC', sans-serif" font-weight="300" fill="#000">公</text>
<text transform="translate(723.29,829.50) scale(0.949,1)" font-size="20" font-family="'Liberation Sans', 'Noto Sans CJK SC', sans-serif" font-weight="300" fill="#000">司</text>
<line x1="534.5" y1="808" x2="534.5" y2="837" stroke="#000" stroke-width="1"/>
</svg></body></html>
